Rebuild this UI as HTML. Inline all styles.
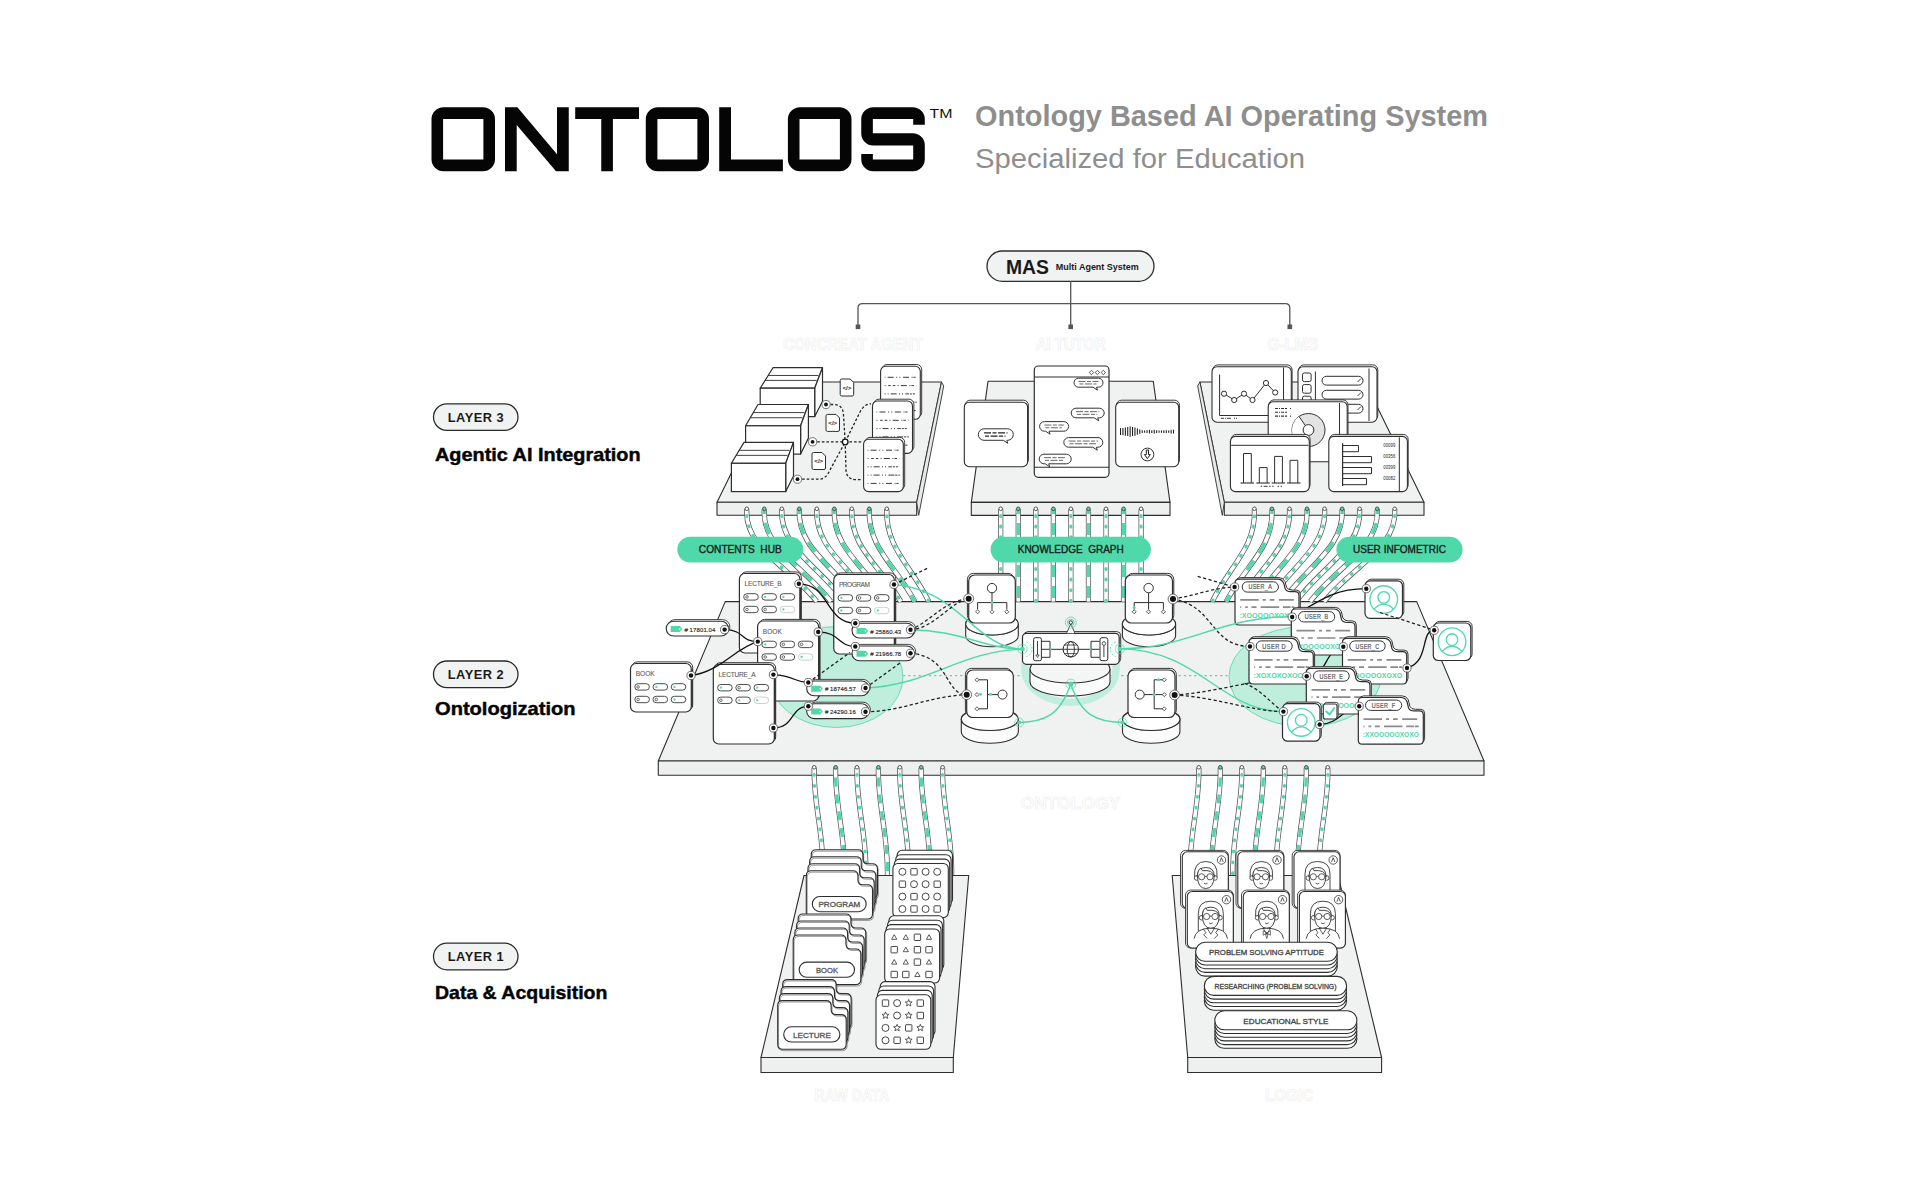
<!DOCTYPE html>
<html><head><meta charset="utf-8"><title>ONTOLOS</title>
<style>html,body{margin:0;padding:0;background:#fff;width:1920px;height:1200px;overflow:hidden}svg{display:block;font-family:"Liberation Sans",sans-serif}</style>
</head><body>
<svg width="1920" height="1200" viewBox="0 0 1920 1200" font-family='"Liberation Sans", sans-serif'>
<rect x="0" y="0" width="1920" height="1200" rx="0" fill="#ffffff" stroke="none" stroke-width="0" />
<path d="M443.5,107.3 h39.5 a12,12 0 0 1 12,12 v39.85 a12,12 0 0 1 -12,12 h-39.5 a12,12 0 0 1 -12,-12 v-39.85 a12,12 0 0 1 12,-12 Z M443.1,118.9 H483.4 V159.55 H443.1 Z" fill="#050505" stroke="none" stroke-width="0" fill-rule="evenodd"/>
<path d="M505,107.3 L517.4,107.3 L557,154.2 L557,107.3 L568.75,107.3 L568.75,171.15 L556,171.15 L516.7,125 L516.7,171.15 L505,171.15 Z" fill="#050505" stroke="none" stroke-width="0" />
<path d="M575.2,107.3 H639 V119 H612.9 V171.15 H601.25 V119 H575.2 Z" fill="#050505" stroke="none" stroke-width="0" />
<path d="M657.8,107.3 h39.2 a12,12 0 0 1 12,12 v39.85 a12,12 0 0 1 -12,12 h-39.2 a12,12 0 0 1 -12,-12 v-39.85 a12,12 0 0 1 12,-12 Z M657.4,118.9 H697.4 V159.55 H657.4 Z" fill="#050505" stroke="none" stroke-width="0" fill-rule="evenodd"/>
<path d="M719.2,107.3 H731 V159.4 H782.9 V171.15 H719.2 Z" fill="#050505" stroke="none" stroke-width="0" />
<path d="M799.9,107.3 h39.6 a12,12 0 0 1 12,12 v39.85 a12,12 0 0 1 -12,12 h-39.6 a12,12 0 0 1 -12,-12 v-39.85 a12,12 0 0 1 12,-12 Z M799.5,118.9 H839.9 V159.55 H799.5 Z" fill="#050505" stroke="none" stroke-width="0" fill-rule="evenodd"/>
<path d="M873.25,107.3 H912.8 A12,12 0 0 1 924.8,119.3 V124.8 H913.2 V118.9 H872.85 V133.3 H912.8 A12,12 0 0 1 924.8,145.3 V159.15 A12,12 0 0 1 912.8,171.15 H873.25 A12,12 0 0 1 861.25,159.15 V154 H872.85 V159.55 H913.2 V145.5 H873.25 A12,12 0 0 1 861.25,133.5 V119.3 A12,12 0 0 1 873.25,107.3 Z" fill="#050505" stroke="none" stroke-width="0" />
<text x="929.5" y="118.2" font-size="12.5" font-weight="normal" fill="#111" text-anchor="start" textLength="23" lengthAdjust="spacingAndGlyphs">TM</text>
<text x="975" y="126.4" font-size="28.6" font-weight="bold" fill="#8e8e8e" text-anchor="start" textLength="513" lengthAdjust="spacingAndGlyphs">Ontology Based AI Operating System</text>
<text x="975" y="167.5" font-size="28.4" font-weight="normal" fill="#8e8e8e" text-anchor="start" textLength="330" lengthAdjust="spacingAndGlyphs">Specialized for Education</text>
<rect x="433.5" y="403.8" width="84.5" height="26.6" rx="13.3" fill="#f1f2f2" stroke="#2a2a2a" stroke-width="1.3" />
<text x="447.8" y="422" font-size="12.8" font-weight="bold" fill="#1a1a1a" text-anchor="start" textLength="55.7" lengthAdjust="spacing">LAYER 3</text>
<text x="435" y="460.6" font-size="19" font-weight="bold" fill="#050505" text-anchor="start" stroke="#050505" stroke-width="0.45" textLength="205.6" lengthAdjust="spacingAndGlyphs">Agentic AI Integration</text>
<rect x="433.5" y="661" width="84.5" height="26.6" rx="13.3" fill="#f1f2f2" stroke="#2a2a2a" stroke-width="1.3" />
<text x="447.8" y="679.2" font-size="12.8" font-weight="bold" fill="#1a1a1a" text-anchor="start" textLength="55.7" lengthAdjust="spacing">LAYER 2</text>
<text x="435" y="715" font-size="19" font-weight="bold" fill="#050505" text-anchor="start" stroke="#050505" stroke-width="0.45" textLength="140.6" lengthAdjust="spacingAndGlyphs">Ontologization</text>
<rect x="433.5" y="943.2" width="84.5" height="26.6" rx="13.3" fill="#f1f2f2" stroke="#2a2a2a" stroke-width="1.3" />
<text x="447.8" y="961.4" font-size="12.8" font-weight="bold" fill="#1a1a1a" text-anchor="start" textLength="55.7" lengthAdjust="spacing">LAYER 1</text>
<text x="435" y="998.8" font-size="19" font-weight="bold" fill="#050505" text-anchor="start" stroke="#050505" stroke-width="0.45" textLength="172.4" lengthAdjust="spacingAndGlyphs">Data &amp; Acquisition</text>
<rect x="987" y="251" width="167" height="30.3" rx="15.2" fill="#f1f2f2" stroke="#2e2e2e" stroke-width="1.3" />
<text x="1006" y="273.6" font-size="19.5" font-weight="bold" fill="#1a1a1a" text-anchor="start" textLength="43" lengthAdjust="spacingAndGlyphs">MAS</text>
<text x="1055.8" y="270.2" font-size="9.8" font-weight="bold" fill="#1a1a1a" text-anchor="start" textLength="83" lengthAdjust="spacingAndGlyphs">Multi Agent System</text>
<path d="M1070.7,281.3 V327" fill="none" stroke="#555" stroke-width="1.3" />
<path d="M858,327 V308 Q858,303.6 862.4,303.6 H1285.4 Q1289.8,303.6 1289.8,308 V327" fill="none" stroke="#555" stroke-width="1.3" />
<rect x="855.7" y="324.5" width="4.6" height="4.6" rx="0" fill="#555" stroke="none" stroke-width="0" />
<rect x="1068.4" y="324.5" width="4.6" height="4.6" rx="0" fill="#555" stroke="none" stroke-width="0" />
<rect x="1287.5" y="324.5" width="4.6" height="4.6" rx="0" fill="#555" stroke="none" stroke-width="0" />
<text x="853" y="349.8" font-size="17" font-weight="bold" fill="#ffffff" text-anchor="middle" stroke="#ececec" stroke-width="0.6" textLength="139.6" lengthAdjust="spacingAndGlyphs">CONCREAT AGENT</text>
<text x="1070.7" y="349.8" font-size="17" font-weight="bold" fill="#ffffff" text-anchor="middle" stroke="#ececec" stroke-width="0.6" textLength="70" lengthAdjust="spacingAndGlyphs">AI TUTOR</text>
<text x="1292.7" y="349.8" font-size="17" font-weight="bold" fill="#ffffff" text-anchor="middle" stroke="#ececec" stroke-width="0.6" textLength="51" lengthAdjust="spacingAndGlyphs">G-LMS</text>
<polygon points="776,382 941.5,382 916.7,502.3 717,502.3" fill="#f0f1f1" stroke="#2e2e2e" stroke-width="1.1" stroke-linejoin="round" />
<polygon points="717,502.3 916.7,502.3 916.7,515.3 717,515.3" fill="#eeefef" stroke="#2e2e2e" stroke-width="1.1" stroke-linejoin="round" />
<polygon points="941.5,382 943.7,386 918.7,515.3 916.7,502.3" fill="#e8e9e9" stroke="#2e2e2e" stroke-width="0.9" stroke-linejoin="round" />
<polygon points="988,381.3 1153.3,381.3 1170,502.4 971.3,502.4" fill="#f0f1f1" stroke="#2e2e2e" stroke-width="1.1" stroke-linejoin="round" />
<polygon points="971.3,502.4 1170,502.4 1170,515.4 971.3,515.4" fill="#eeefef" stroke="#2e2e2e" stroke-width="1.1" stroke-linejoin="round" />
<polygon points="1199.9,382 1365,382 1424,502.3 1224.3,502.3" fill="#f0f1f1" stroke="#2e2e2e" stroke-width="1.1" stroke-linejoin="round" />
<polygon points="1224.3,502.3 1424,502.3 1424,515.3 1224.3,515.3" fill="#eeefef" stroke="#2e2e2e" stroke-width="1.1" stroke-linejoin="round" />
<polygon points="1199.9,382 1197.7,386 1222.3,515.3 1224.3,502.3" fill="#e8e9e9" stroke="#2e2e2e" stroke-width="0.9" stroke-linejoin="round" />
<polygon points="760.2,388.2 773,367.7 822.5,367.7 814.7,388.2" fill="#fff" stroke="#2e2e2e" stroke-width="1.2" stroke-linejoin="round" />
<polygon points="814.7,388.2 822.5,367.7 822.5,401.23 814.7,416.6" fill="#fff" stroke="#2e2e2e" stroke-width="1.2" stroke-linejoin="round" />
<rect x="760.2" y="388.2" width="54.5" height="28.4" rx="0" fill="#fff" stroke="#2e2e2e" stroke-width="1.2" />
<line x1="768.14" y1="375.49" x2="818.54" y2="375.49" stroke="#2e2e2e" stroke-width="0.9" />
<line x1="765.06" y1="380.41" x2="816.66" y2="380.41" stroke="#2e2e2e" stroke-width="0.9" />
<polygon points="745.6,425.8 758,404.5 808.4,404.5 800.6,425.8" fill="#fff" stroke="#2e2e2e" stroke-width="1.2" stroke-linejoin="round" />
<polygon points="800.6,425.8 808.4,404.5 808.4,438.12 800.6,454.1" fill="#fff" stroke="#2e2e2e" stroke-width="1.2" stroke-linejoin="round" />
<rect x="745.6" y="425.8" width="55" height="28.3" rx="0" fill="#fff" stroke="#2e2e2e" stroke-width="1.2" />
<line x1="753.29" y1="412.59" x2="804.44" y2="412.59" stroke="#2e2e2e" stroke-width="0.9" />
<line x1="750.31" y1="417.71" x2="802.56" y2="417.71" stroke="#2e2e2e" stroke-width="0.9" />
<polygon points="731.4,463.3 744,442.4 793.5,442.4 785.7,463.3" fill="#fff" stroke="#2e2e2e" stroke-width="1.2" stroke-linejoin="round" />
<polygon points="785.7,463.3 793.5,442.4 793.5,475.93 785.7,491.6" fill="#fff" stroke="#2e2e2e" stroke-width="1.2" stroke-linejoin="round" />
<rect x="731.4" y="463.3" width="54.3" height="28.3" rx="0" fill="#fff" stroke="#2e2e2e" stroke-width="1.2" />
<line x1="739.21" y1="450.34" x2="789.54" y2="450.34" stroke="#2e2e2e" stroke-width="0.9" />
<line x1="736.19" y1="455.36" x2="787.66" y2="455.36" stroke="#2e2e2e" stroke-width="0.9" />
<path d="M841.7,379 H850.2 L853.7,382.5 V394.5 Q853.7,396 852.2,396 H841.7 Q840.2,396 840.2,394.5 V380.5 Q840.2,379 841.7,379 Z" fill="#fff" stroke="#2e2e2e" stroke-width="1" />
<text x="846.95" y="389.8" font-size="6.2" font-weight="bold" fill="#222" text-anchor="middle" >&lt;/&gt;</text>
<path d="M827.5,414.4 H836 L839.5,417.9 V429.9 Q839.5,431.4 838,431.4 H827.5 Q826,431.4 826,429.9 V415.9 Q826,414.4 827.5,414.4 Z" fill="#fff" stroke="#2e2e2e" stroke-width="1" />
<text x="832.75" y="425.2" font-size="6.2" font-weight="bold" fill="#222" text-anchor="middle" >&lt;/&gt;</text>
<path d="M813.5,452.5 H822 L825.5,456 V468 Q825.5,469.5 824,469.5 H813.5 Q812,469.5 812,468 V454 Q812,452.5 813.5,452.5 Z" fill="#fff" stroke="#2e2e2e" stroke-width="1" />
<text x="818.75" y="463.3" font-size="6.2" font-weight="bold" fill="#222" text-anchor="middle" >&lt;/&gt;</text>
<path d="M826,404.5 H834 Q843,404.5 843.5,415 L845.2,442 L846,470 Q846.5,479.6 856,479.6 H862" fill="none" stroke="#222" stroke-width="1.3" stroke-dasharray="2.6 2" stroke-linecap="butt"/>
<path d="M812.6,441.8 H863" fill="none" stroke="#222" stroke-width="1.3" stroke-dasharray="2.6 2" stroke-linecap="butt"/>
<path d="M797.5,479.2 H819 Q826,479.2 830,470 L845.2,442 L860,412 Q864,404 871,403.8" fill="none" stroke="#222" stroke-width="1.3" stroke-dasharray="2.6 2" stroke-linecap="butt"/>
<rect x="882" y="364.5" width="39.7" height="53" rx="5" fill="#fff" stroke="#2e2e2e" stroke-width="0.935" />
<rect x="880.6" y="366.3" width="39.7" height="53" rx="5" fill="#fff" stroke="#2e2e2e" stroke-width="1.1" />
<line x1="884.6" y1="377.3" x2="916.8" y2="377.3" stroke="#3a3a3a" stroke-width="1.0" stroke-dasharray="0.8 2.2 6 2.6 1 2.2 1 2.6 6 2.6 1"/>
<line x1="884.6" y1="385.6" x2="916.8" y2="385.6" stroke="#3a3a3a" stroke-width="1.0" stroke-dasharray="1 2.6 2.6 2 2.6 2.2 1 2.2 6 2.6 1"/>
<line x1="884.6" y1="393.9" x2="916.8" y2="393.9" stroke="#3a3a3a" stroke-width="1.0" stroke-dasharray="1 2 1 2 6 2.4 1 2 1 2.4 3.5"/>
<line x1="884.6" y1="402.2" x2="916.8" y2="402.2" stroke="#3a3a3a" stroke-width="1.0" stroke-dasharray="0.8 2.2 1 2 6 2.4 1 2 1 2.4 6"/>
<line x1="884.6" y1="410.5" x2="916.8" y2="410.5" stroke="#3a3a3a" stroke-width="1.0" stroke-dasharray="0.8 2.2 6 2.6 1 2.2 1 2.6 6 2.6 1"/>
<rect x="873.9" y="399.2" width="40" height="52.4" rx="5" fill="#fff" stroke="#2e2e2e" stroke-width="0.935" />
<rect x="872.5" y="401" width="40" height="52.4" rx="5" fill="#fff" stroke="#2e2e2e" stroke-width="1.1" />
<line x1="876.5" y1="412" x2="909" y2="412" stroke="#3a3a3a" stroke-width="1.0" stroke-dasharray="0.8 2.2 6 2.6 1 2.2 1 2.6 6 2.6 1"/>
<line x1="876.5" y1="420.3" x2="909" y2="420.3" stroke="#3a3a3a" stroke-width="1.0" stroke-dasharray="1 2.6 2.6 2 2.6 2.2 1 2.2 6 2.6 1"/>
<line x1="876.5" y1="428.6" x2="909" y2="428.6" stroke="#3a3a3a" stroke-width="1.0" stroke-dasharray="1 2 1 2 6 2.4 1 2 1 2.4 3.5"/>
<line x1="876.5" y1="436.9" x2="909" y2="436.9" stroke="#3a3a3a" stroke-width="1.0" stroke-dasharray="0.8 2.2 1 2 6 2.4 1 2 1 2.4 6"/>
<line x1="876.5" y1="445.2" x2="909" y2="445.2" stroke="#3a3a3a" stroke-width="1.0" stroke-dasharray="0.8 2.2 6 2.6 1 2.2 1 2.6 6 2.6 1"/>
<rect x="865" y="437.4" width="39.7" height="52.4" rx="5" fill="#fff" stroke="#2e2e2e" stroke-width="0.935" />
<rect x="863.6" y="439.2" width="39.7" height="52.4" rx="5" fill="#fff" stroke="#2e2e2e" stroke-width="1.1" />
<line x1="867.6" y1="450.2" x2="899.8" y2="450.2" stroke="#3a3a3a" stroke-width="1.0" stroke-dasharray="0.8 2.2 6 2.6 1 2.2 1 2.6 6 2.6 1"/>
<line x1="867.6" y1="458.5" x2="899.8" y2="458.5" stroke="#3a3a3a" stroke-width="1.0" stroke-dasharray="1 2.6 2.6 2 2.6 2.2 1 2.2 6 2.6 1"/>
<line x1="867.6" y1="466.8" x2="899.8" y2="466.8" stroke="#3a3a3a" stroke-width="1.0" stroke-dasharray="1 2 1 2 6 2.4 1 2 1 2.4 3.5"/>
<line x1="867.6" y1="475.1" x2="899.8" y2="475.1" stroke="#3a3a3a" stroke-width="1.0" stroke-dasharray="0.8 2.2 1 2 6 2.4 1 2 1 2.4 6"/>
<line x1="867.6" y1="483.4" x2="899.8" y2="483.4" stroke="#3a3a3a" stroke-width="1.0" stroke-dasharray="0.8 2.2 6 2.6 1 2.2 1 2.6 6 2.6 1"/>
<circle cx="826" cy="404.5" r="4.1" fill="#fff" stroke="#555" stroke-width="0.8" />
<circle cx="826" cy="404.5" r="1.9" fill="#111" stroke="none" stroke-width="0" />
<circle cx="812.6" cy="441.8" r="4.1" fill="#fff" stroke="#555" stroke-width="0.8" />
<circle cx="812.6" cy="441.8" r="1.9" fill="#111" stroke="none" stroke-width="0" />
<circle cx="797.5" cy="479.2" r="4.1" fill="#fff" stroke="#555" stroke-width="0.8" />
<circle cx="797.5" cy="479.2" r="1.9" fill="#111" stroke="none" stroke-width="0" />
<circle cx="845.2" cy="442" r="2.8" fill="#fff" stroke="#111" stroke-width="1.3" />
<rect x="965.1" y="400.2" width="63.3" height="64.5" rx="5" fill="#fff" stroke="#2e2e2e" stroke-width="0.935" />
<rect x="964.3" y="402.2" width="63.3" height="64.5" rx="5" fill="#fff" stroke="#2e2e2e" stroke-width="1.1" />
<path d="M984.05,428.8 H1007.55 A5.75,5.75 0 0 1 1013.3,434.55 A5.75,5.75 0 0 1 1007.55,440.3 H1006.8 L1007.8,443.3 L1003.3,440.3 H984.05 A5.75,5.75 0 0 1 978.3,434.55 A5.75,5.75 0 0 1 984.05,428.8 Z" fill="#fff" stroke="#333" stroke-width="1.0" />
<line x1="984.05" y1="432.94" x2="1007.55" y2="432.94" stroke="#222" stroke-width="1.3" stroke-dasharray="7 1.5 4 1.5"/>
<line x1="985.05" y1="436.16" x2="1005.55" y2="436.16" stroke="#222" stroke-width="1.3" stroke-dasharray="4 1.5 7 1.5"/>
<rect x="1034.3" y="366" width="74.7" height="111.3" rx="4" fill="#fff" stroke="#2e2e2e" stroke-width="1.2" />
<line x1="1034.3" y1="377" x2="1109" y2="377" stroke="#2e2e2e" stroke-width="1.1" />
<line x1="1034.3" y1="467.3" x2="1109" y2="467.3" stroke="#2e2e2e" stroke-width="1.1" />
<path d="M1091.5,370.3 l2.2,2.2 l-2.2,2.2 l-2.2,-2.2 Z" fill="#fff" stroke="#2e2e2e" stroke-width="0.8" />
<path d="M1097.4,370.3 l2.2,2.2 l-2.2,2.2 l-2.2,-2.2 Z" fill="#fff" stroke="#2e2e2e" stroke-width="0.8" />
<path d="M1103.3,370.3 l2.2,2.2 l-2.2,2.2 l-2.2,-2.2 Z" fill="#fff" stroke="#2e2e2e" stroke-width="0.8" />
<path d="M1078.5,378.2 H1098.5 A4.5,4.5 0 0 1 1103,382.7 A4.5,4.5 0 0 1 1098.5,387.2 H1096.5 L1097.5,390.2 L1093,387.2 H1078.5 A4.5,4.5 0 0 1 1074,382.7 A4.5,4.5 0 0 1 1078.5,378.2 Z" fill="#fff" stroke="#333" stroke-width="1.0" />
<line x1="1078.5" y1="381.44" x2="1098.5" y2="381.44" stroke="#555" stroke-width="0.9" stroke-dasharray="7 1.5 4 1.5"/>
<line x1="1079.5" y1="383.96" x2="1096.5" y2="383.96" stroke="#555" stroke-width="0.9" stroke-dasharray="4 1.5 7 1.5"/>
<path d="M1076,408.2 H1099.4 A4.8,4.8 0 0 1 1104.2,413 A4.8,4.8 0 0 1 1099.4,417.8 H1097.7 L1098.7,420.8 L1094.2,417.8 H1076 A4.8,4.8 0 0 1 1071.2,413 A4.8,4.8 0 0 1 1076,408.2 Z" fill="#fff" stroke="#333" stroke-width="1.0" />
<line x1="1076" y1="411.66" x2="1099.4" y2="411.66" stroke="#555" stroke-width="0.9" stroke-dasharray="7 1.5 4 1.5"/>
<line x1="1077" y1="414.34" x2="1097.4" y2="414.34" stroke="#555" stroke-width="0.9" stroke-dasharray="4 1.5 7 1.5"/>
<path d="M1044.4,421.6 H1063.8 A4.8,4.8 0 0 1 1068.6,426.4 A4.8,4.8 0 0 1 1063.8,431.2 H1049.1 L1050.1,434.2 L1045.6,431.2 H1044.4 A4.8,4.8 0 0 1 1039.6,426.4 A4.8,4.8 0 0 1 1044.4,421.6 Z" fill="#fff" stroke="#333" stroke-width="1.0" />
<line x1="1044.4" y1="425.06" x2="1063.8" y2="425.06" stroke="#555" stroke-width="0.9" stroke-dasharray="7 1.5 4 1.5"/>
<line x1="1045.4" y1="427.74" x2="1061.8" y2="427.74" stroke="#555" stroke-width="0.9" stroke-dasharray="4 1.5 7 1.5"/>
<path d="M1068.6,437.6 H1098 A4.8,4.8 0 0 1 1102.8,442.4 A4.8,4.8 0 0 1 1098,447.2 H1096.3 L1097.3,450.2 L1092.8,447.2 H1068.6 A4.8,4.8 0 0 1 1063.8,442.4 A4.8,4.8 0 0 1 1068.6,437.6 Z" fill="#fff" stroke="#333" stroke-width="1.0" />
<line x1="1068.6" y1="441.06" x2="1098" y2="441.06" stroke="#555" stroke-width="0.9" stroke-dasharray="7 1.5 4 1.5"/>
<line x1="1069.6" y1="443.74" x2="1096" y2="443.74" stroke="#555" stroke-width="0.9" stroke-dasharray="4 1.5 7 1.5"/>
<path d="M1044,454.2 H1066.4 A4.8,4.8 0 0 1 1071.2,459 A4.8,4.8 0 0 1 1066.4,463.8 H1048.7 L1049.7,466.8 L1045.2,463.8 H1044 A4.8,4.8 0 0 1 1039.2,459 A4.8,4.8 0 0 1 1044,454.2 Z" fill="#fff" stroke="#333" stroke-width="1.0" />
<line x1="1044" y1="457.66" x2="1066.4" y2="457.66" stroke="#555" stroke-width="0.9" stroke-dasharray="7 1.5 4 1.5"/>
<line x1="1045" y1="460.34" x2="1064.4" y2="460.34" stroke="#555" stroke-width="0.9" stroke-dasharray="4 1.5 7 1.5"/>
<rect x="1116.5" y="400.2" width="63" height="64.5" rx="5" fill="#fff" stroke="#2e2e2e" stroke-width="0.935" />
<rect x="1115.7" y="402.2" width="63" height="64.5" rx="5" fill="#fff" stroke="#2e2e2e" stroke-width="1.1" />
<line x1="1120.5" y1="428.1" x2="1120.5" y2="435.1" stroke="#1a1a1a" stroke-width="1.05" />
<line x1="1122.91" y1="428" x2="1122.91" y2="435.2" stroke="#1a1a1a" stroke-width="1.05" />
<line x1="1125.32" y1="427.5" x2="1125.32" y2="435.7" stroke="#1a1a1a" stroke-width="1.05" />
<line x1="1127.73" y1="427.1" x2="1127.73" y2="436.1" stroke="#1a1a1a" stroke-width="1.05" />
<line x1="1130.14" y1="426.5" x2="1130.14" y2="436.7" stroke="#1a1a1a" stroke-width="1.05" />
<line x1="1132.55" y1="427.1" x2="1132.55" y2="436.1" stroke="#1a1a1a" stroke-width="1.05" />
<line x1="1134.96" y1="427.5" x2="1134.96" y2="435.7" stroke="#1a1a1a" stroke-width="1.05" />
<line x1="1137.37" y1="428.4" x2="1137.37" y2="434.8" stroke="#1a1a1a" stroke-width="1.05" />
<line x1="1139.78" y1="429.4" x2="1139.78" y2="433.8" stroke="#1a1a1a" stroke-width="1.05" />
<line x1="1142.19" y1="430.3" x2="1142.19" y2="432.9" stroke="#1a1a1a" stroke-width="1.05" />
<line x1="1144.6" y1="430.4" x2="1144.6" y2="432.8" stroke="#1a1a1a" stroke-width="1.05" />
<line x1="1147.01" y1="430.3" x2="1147.01" y2="432.9" stroke="#1a1a1a" stroke-width="1.05" />
<line x1="1149.42" y1="429.8" x2="1149.42" y2="433.4" stroke="#1a1a1a" stroke-width="1.05" />
<line x1="1151.83" y1="430.3" x2="1151.83" y2="432.9" stroke="#1a1a1a" stroke-width="1.05" />
<line x1="1154.24" y1="429.8" x2="1154.24" y2="433.4" stroke="#1a1a1a" stroke-width="1.05" />
<line x1="1156.65" y1="430.3" x2="1156.65" y2="432.9" stroke="#1a1a1a" stroke-width="1.05" />
<line x1="1159.06" y1="430.4" x2="1159.06" y2="432.8" stroke="#1a1a1a" stroke-width="1.05" />
<line x1="1161.47" y1="430.4" x2="1161.47" y2="432.8" stroke="#1a1a1a" stroke-width="1.05" />
<line x1="1163.88" y1="430.3" x2="1163.88" y2="432.9" stroke="#1a1a1a" stroke-width="1.05" />
<line x1="1166.29" y1="430.3" x2="1166.29" y2="432.9" stroke="#1a1a1a" stroke-width="1.05" />
<line x1="1168.7" y1="430.4" x2="1168.7" y2="432.8" stroke="#1a1a1a" stroke-width="1.05" />
<line x1="1171.11" y1="429.8" x2="1171.11" y2="433.4" stroke="#1a1a1a" stroke-width="1.05" />
<line x1="1173.52" y1="429.7" x2="1173.52" y2="433.5" stroke="#1a1a1a" stroke-width="1.05" />
<circle cx="1147.4" cy="454.5" r="6.4" fill="#fff" stroke="#333" stroke-width="1.0" />
<path d="M1146.3,450 H1148.5 V454.6 H1150.3 L1147.4,458.6 L1144.5,454.6 H1146.3 Z" fill="#fff" stroke="#222" stroke-width="1.0" />
<rect x="1212.8" y="364.9" width="79.3" height="55.5" rx="5" fill="#fff" stroke="#2e2e2e" stroke-width="0.935" />
<rect x="1212" y="366.7" width="79.3" height="55.5" rx="5" fill="#fff" stroke="#2e2e2e" stroke-width="1.1" />
<line x1="1283.5" y1="367.5" x2="1283.5" y2="421.5" stroke="#2e2e2e" stroke-width="1.0" />
<path d="M1219.6,374.6 V415.5 H1282" fill="none" stroke="#2e2e2e" stroke-width="1.0" />
<path d="M1224,393.7 L1234.2,400 L1244,393.7 L1252.5,400 L1266,383 L1275.2,392.5" fill="none" stroke="#2e2e2e" stroke-width="1.0" />
<circle cx="1224" cy="393.7" r="2.6" fill="#fff" stroke="#2e2e2e" stroke-width="1.0" />
<circle cx="1234.2" cy="400" r="2.6" fill="#fff" stroke="#2e2e2e" stroke-width="1.0" />
<circle cx="1244" cy="393.7" r="2.6" fill="#fff" stroke="#2e2e2e" stroke-width="1.0" />
<circle cx="1252.5" cy="400" r="2.6" fill="#fff" stroke="#2e2e2e" stroke-width="1.0" />
<circle cx="1266" cy="383" r="2.6" fill="#fff" stroke="#2e2e2e" stroke-width="1.0" />
<circle cx="1275.2" cy="392.5" r="2.6" fill="#fff" stroke="#2e2e2e" stroke-width="1.0" />
<line x1="1221" y1="418.3" x2="1239" y2="418.3" stroke="#222" stroke-width="0.9" stroke-dasharray="3 1 1 1 4"/>
<rect x="1298.8" y="364.9" width="79" height="55.5" rx="5" fill="#fff" stroke="#2e2e2e" stroke-width="0.935" />
<rect x="1298" y="366.7" width="79" height="55.5" rx="5" fill="#fff" stroke="#2e2e2e" stroke-width="1.1" />
<line x1="1315.4" y1="371.5" x2="1315.4" y2="421" stroke="#2e2e2e" stroke-width="1.0" />
<line x1="1369" y1="368.5" x2="1369" y2="421" stroke="#2e2e2e" stroke-width="1.0" />
<rect x="1302.5" y="373" width="8.6" height="8.6" rx="1.8" fill="#fff" stroke="#2e2e2e" stroke-width="1.0" />
<rect x="1322" y="376.3" width="41" height="8.8" rx="4.4" fill="#fff" stroke="#2e2e2e" stroke-width="1.0" />
<line x1="1357.5" y1="382" x2="1361" y2="378.5" stroke="#2e2e2e" stroke-width="0.9" />
<rect x="1302.5" y="384.6" width="8.6" height="8.6" rx="1.8" fill="#fff" stroke="#2e2e2e" stroke-width="1.0" />
<rect x="1322" y="390.3" width="41" height="8.8" rx="4.4" fill="#fff" stroke="#2e2e2e" stroke-width="1.0" />
<line x1="1357.5" y1="396" x2="1361" y2="392.5" stroke="#2e2e2e" stroke-width="0.9" />
<rect x="1302.5" y="396.2" width="8.6" height="8.6" rx="1.8" fill="#fff" stroke="#2e2e2e" stroke-width="1.0" />
<rect x="1322" y="404.3" width="41" height="8.8" rx="4.4" fill="#fff" stroke="#2e2e2e" stroke-width="1.0" />
<line x1="1357.5" y1="410" x2="1361" y2="406.5" stroke="#2e2e2e" stroke-width="0.9" />
<rect x="1269" y="399.9" width="79" height="60" rx="5" fill="#fff" stroke="#2e2e2e" stroke-width="0.935" />
<rect x="1268.2" y="401.7" width="79" height="60" rx="5" fill="#fff" stroke="#2e2e2e" stroke-width="1.1" />
<line x1="1339.5" y1="403" x2="1339.5" y2="461" stroke="#2e2e2e" stroke-width="1.0" />
<line x1="1275" y1="408.5" x2="1291" y2="408.5" stroke="#333" stroke-width="1.1" stroke-dasharray="3 1 1 1 3 1 2"/>
<line x1="1275" y1="412.3" x2="1290" y2="412.3" stroke="#333" stroke-width="1.1" stroke-dasharray="3 1 1 1 3 1 2"/>
<line x1="1275" y1="416.1" x2="1292" y2="416.1" stroke="#333" stroke-width="1.1" stroke-dasharray="3 1 1 1 3 1 2"/>
<circle cx="1308.5" cy="430" r="16.5" fill="#e3e3e3" stroke="#333" stroke-width="1.0" />
<path d="M1308.5,430 L1299,416.5 A16.5,16.5 0 0 0 1299,443.5 Z" fill="#fff" stroke="none" stroke-width="0" />
<path d="M1308.5,430 L1299,416.5" fill="none" stroke="#2e2e2e" stroke-width="1.0" />
<circle cx="1308.5" cy="430" r="5.4" fill="#fff" stroke="#2e2e2e" stroke-width="1.0" />
<rect x="1231.2" y="434.4" width="78.9" height="55.2" rx="5" fill="#fff" stroke="#2e2e2e" stroke-width="0.935" />
<rect x="1230.4" y="436.4" width="78.9" height="55.2" rx="5" fill="#fff" stroke="#2e2e2e" stroke-width="1.1" />
<line x1="1231.2" y1="445.3" x2="1308.5" y2="445.3" stroke="#2e2e2e" stroke-width="1.0" />
<path d="M1243.5,483 V453.5 H1251.3 V483" fill="none" stroke="#2e2e2e" stroke-width="1.0" />
<line x1="1240.5" y1="483" x2="1254" y2="483" stroke="#2e2e2e" stroke-width="1.1" />
<path d="M1259.3,483 V467.6 H1267.1 V483" fill="none" stroke="#2e2e2e" stroke-width="1.0" />
<line x1="1256.3" y1="483" x2="1269.8" y2="483" stroke="#2e2e2e" stroke-width="1.1" />
<path d="M1274.6,483 V456.4 H1282.4 V483" fill="none" stroke="#2e2e2e" stroke-width="1.0" />
<line x1="1271.6" y1="483" x2="1285.1" y2="483" stroke="#2e2e2e" stroke-width="1.1" />
<path d="M1290,483 V460.3 H1297.8 V483" fill="none" stroke="#2e2e2e" stroke-width="1.0" />
<line x1="1287" y1="483" x2="1300.5" y2="483" stroke="#2e2e2e" stroke-width="1.1" />
<line x1="1260.6" y1="486.3" x2="1282" y2="486.3" stroke="#222" stroke-width="0.9" stroke-dasharray="1.5 1.5 4 1.5 1.5"/>
<rect x="1329.6" y="434.4" width="78.6" height="55.2" rx="5" fill="#fff" stroke="#2e2e2e" stroke-width="0.935" />
<rect x="1328.8" y="436.4" width="78.6" height="55.2" rx="5" fill="#fff" stroke="#2e2e2e" stroke-width="1.1" />
<line x1="1399.3" y1="437.3" x2="1399.3" y2="491" stroke="#2e2e2e" stroke-width="1.0" />
<line x1="1342.6" y1="443.3" x2="1342.6" y2="486" stroke="#2e2e2e" stroke-width="1.2" />
<path d="M1343,445.5 H1358.5 V451.7 H1343" fill="none" stroke="#2e2e2e" stroke-width="1.0" />
<path d="M1343,456.5 H1371.5 V462.7 H1343" fill="none" stroke="#2e2e2e" stroke-width="1.0" />
<path d="M1343,467.5 H1371.5 V473.7 H1343" fill="none" stroke="#2e2e2e" stroke-width="1.0" />
<path d="M1343,478.5 H1366.5 V484.7 H1343" fill="none" stroke="#2e2e2e" stroke-width="1.0" />
<text x="1383.3" y="447.2" font-size="5.6" font-weight="normal" fill="#222" text-anchor="start" textLength="12" lengthAdjust="spacingAndGlyphs">00099</text>
<text x="1383.3" y="458.2" font-size="5.6" font-weight="normal" fill="#222" text-anchor="start" textLength="12" lengthAdjust="spacingAndGlyphs">00356</text>
<text x="1383.3" y="469.2" font-size="5.6" font-weight="normal" fill="#222" text-anchor="start" textLength="12" lengthAdjust="spacingAndGlyphs">00399</text>
<text x="1383.3" y="480.2" font-size="5.6" font-weight="normal" fill="#222" text-anchor="start" textLength="12" lengthAdjust="spacingAndGlyphs">00082</text>
<polygon points="725.2,601.6 1416.7,601.6 1484,761 658.3,761" fill="#f0f1f1" stroke="#2e2e2e" stroke-width="1.1" stroke-linejoin="round" />
<polygon points="658.3,761 1484,761 1484,775.2 658.3,775.2" fill="#eeefef" stroke="#2e2e2e" stroke-width="1.1" stroke-linejoin="round" />
<path d="M746.8,509.2 C744,548.01 788.8,566.49 816.8,601.6" fill="none" stroke="#555555" stroke-width="5.2" stroke-linecap="butt"/>
<path d="M746.8,509.2 C744,548.01 788.8,566.49 816.8,601.6" fill="none" stroke="#ffffff" stroke-width="3.7" stroke-linecap="butt"/>
<path d="M746.8,509.2 C744,548.01 788.8,566.49 816.8,601.6" fill="none" stroke="#4fd8a9" stroke-width="3.2" stroke-dasharray="0.8 9.8" stroke-dashoffset="4.2" stroke-linecap="round"/>
<path d="M764.3,509.2 C761.64,548.01 804.2,566.49 830.8,601.6" fill="none" stroke="#555555" stroke-width="5.2" stroke-linecap="butt"/>
<path d="M764.3,509.2 C761.64,548.01 804.2,566.49 830.8,601.6" fill="none" stroke="#ffffff" stroke-width="3.7" stroke-linecap="butt"/>
<path d="M764.3,509.2 C761.64,548.01 804.2,566.49 830.8,601.6" fill="none" stroke="#4fd8a9" stroke-width="3.4" stroke-dasharray="12 9" stroke-dashoffset="7.3"/>
<path d="M781.8,509.2 C779.28,548.01 819.6,566.49 844.8,601.6" fill="none" stroke="#555555" stroke-width="5.2" stroke-linecap="butt"/>
<path d="M781.8,509.2 C779.28,548.01 819.6,566.49 844.8,601.6" fill="none" stroke="#ffffff" stroke-width="3.7" stroke-linecap="butt"/>
<path d="M781.8,509.2 C779.28,548.01 819.6,566.49 844.8,601.6" fill="none" stroke="#4fd8a9" stroke-width="3.2" stroke-dasharray="0.8 9.8" stroke-dashoffset="4.2" stroke-linecap="round"/>
<path d="M799.3,509.2 C796.92,548.01 835,566.49 858.8,601.6" fill="none" stroke="#555555" stroke-width="5.2" stroke-linecap="butt"/>
<path d="M799.3,509.2 C796.92,548.01 835,566.49 858.8,601.6" fill="none" stroke="#ffffff" stroke-width="3.7" stroke-linecap="butt"/>
<path d="M799.3,509.2 C796.92,548.01 835,566.49 858.8,601.6" fill="none" stroke="#4fd8a9" stroke-width="3.4" stroke-dasharray="12 9" stroke-dashoffset="7.3"/>
<path d="M816.8,509.2 C814.56,548.01 850.4,566.49 872.8,601.6" fill="none" stroke="#555555" stroke-width="5.2" stroke-linecap="butt"/>
<path d="M816.8,509.2 C814.56,548.01 850.4,566.49 872.8,601.6" fill="none" stroke="#ffffff" stroke-width="3.7" stroke-linecap="butt"/>
<path d="M816.8,509.2 C814.56,548.01 850.4,566.49 872.8,601.6" fill="none" stroke="#4fd8a9" stroke-width="3.2" stroke-dasharray="0.8 9.8" stroke-dashoffset="4.2" stroke-linecap="round"/>
<path d="M834.3,509.2 C832.2,548.01 865.8,566.49 886.8,601.6" fill="none" stroke="#555555" stroke-width="5.2" stroke-linecap="butt"/>
<path d="M834.3,509.2 C832.2,548.01 865.8,566.49 886.8,601.6" fill="none" stroke="#ffffff" stroke-width="3.7" stroke-linecap="butt"/>
<path d="M834.3,509.2 C832.2,548.01 865.8,566.49 886.8,601.6" fill="none" stroke="#4fd8a9" stroke-width="3.4" stroke-dasharray="12 9" stroke-dashoffset="7.3"/>
<path d="M851.8,509.2 C849.84,548.01 881.2,566.49 900.8,601.6" fill="none" stroke="#555555" stroke-width="5.2" stroke-linecap="butt"/>
<path d="M851.8,509.2 C849.84,548.01 881.2,566.49 900.8,601.6" fill="none" stroke="#ffffff" stroke-width="3.7" stroke-linecap="butt"/>
<path d="M851.8,509.2 C849.84,548.01 881.2,566.49 900.8,601.6" fill="none" stroke="#4fd8a9" stroke-width="3.2" stroke-dasharray="0.8 9.8" stroke-dashoffset="4.2" stroke-linecap="round"/>
<path d="M869.3,509.2 C867.48,548.01 896.6,566.49 914.8,601.6" fill="none" stroke="#555555" stroke-width="5.2" stroke-linecap="butt"/>
<path d="M869.3,509.2 C867.48,548.01 896.6,566.49 914.8,601.6" fill="none" stroke="#ffffff" stroke-width="3.7" stroke-linecap="butt"/>
<path d="M869.3,509.2 C867.48,548.01 896.6,566.49 914.8,601.6" fill="none" stroke="#4fd8a9" stroke-width="3.4" stroke-dasharray="12 9" stroke-dashoffset="7.3"/>
<path d="M886.8,509.2 C885.12,548.01 912,566.49 928.8,601.6" fill="none" stroke="#555555" stroke-width="5.2" stroke-linecap="butt"/>
<path d="M886.8,509.2 C885.12,548.01 912,566.49 928.8,601.6" fill="none" stroke="#ffffff" stroke-width="3.7" stroke-linecap="butt"/>
<path d="M886.8,509.2 C885.12,548.01 912,566.49 928.8,601.6" fill="none" stroke="#4fd8a9" stroke-width="3.2" stroke-dasharray="0.8 9.8" stroke-dashoffset="4.2" stroke-linecap="round"/>
<path d="M1254.4,509.2 C1256.09,548.01 1229.08,566.49 1212.2,601.6" fill="none" stroke="#555555" stroke-width="5.2" stroke-linecap="butt"/>
<path d="M1254.4,509.2 C1256.09,548.01 1229.08,566.49 1212.2,601.6" fill="none" stroke="#ffffff" stroke-width="3.7" stroke-linecap="butt"/>
<path d="M1254.4,509.2 C1256.09,548.01 1229.08,566.49 1212.2,601.6" fill="none" stroke="#4fd8a9" stroke-width="3.2" stroke-dasharray="0.8 9.8" stroke-dashoffset="4.2" stroke-linecap="round"/>
<path d="M1271.94,509.2 C1273.77,548.01 1244.5,566.49 1226.2,601.6" fill="none" stroke="#555555" stroke-width="5.2" stroke-linecap="butt"/>
<path d="M1271.94,509.2 C1273.77,548.01 1244.5,566.49 1226.2,601.6" fill="none" stroke="#ffffff" stroke-width="3.7" stroke-linecap="butt"/>
<path d="M1271.94,509.2 C1273.77,548.01 1244.5,566.49 1226.2,601.6" fill="none" stroke="#4fd8a9" stroke-width="3.4" stroke-dasharray="12 9" stroke-dashoffset="7.3"/>
<path d="M1289.48,509.2 C1291.45,548.01 1259.91,566.49 1240.2,601.6" fill="none" stroke="#555555" stroke-width="5.2" stroke-linecap="butt"/>
<path d="M1289.48,509.2 C1291.45,548.01 1259.91,566.49 1240.2,601.6" fill="none" stroke="#ffffff" stroke-width="3.7" stroke-linecap="butt"/>
<path d="M1289.48,509.2 C1291.45,548.01 1259.91,566.49 1240.2,601.6" fill="none" stroke="#4fd8a9" stroke-width="3.2" stroke-dasharray="0.8 9.8" stroke-dashoffset="4.2" stroke-linecap="round"/>
<path d="M1307.02,509.2 C1309.13,548.01 1275.33,566.49 1254.2,601.6" fill="none" stroke="#555555" stroke-width="5.2" stroke-linecap="butt"/>
<path d="M1307.02,509.2 C1309.13,548.01 1275.33,566.49 1254.2,601.6" fill="none" stroke="#ffffff" stroke-width="3.7" stroke-linecap="butt"/>
<path d="M1307.02,509.2 C1309.13,548.01 1275.33,566.49 1254.2,601.6" fill="none" stroke="#4fd8a9" stroke-width="3.4" stroke-dasharray="12 9" stroke-dashoffset="7.3"/>
<path d="M1324.56,509.2 C1326.81,548.01 1290.74,566.49 1268.2,601.6" fill="none" stroke="#555555" stroke-width="5.2" stroke-linecap="butt"/>
<path d="M1324.56,509.2 C1326.81,548.01 1290.74,566.49 1268.2,601.6" fill="none" stroke="#ffffff" stroke-width="3.7" stroke-linecap="butt"/>
<path d="M1324.56,509.2 C1326.81,548.01 1290.74,566.49 1268.2,601.6" fill="none" stroke="#4fd8a9" stroke-width="3.2" stroke-dasharray="0.8 9.8" stroke-dashoffset="4.2" stroke-linecap="round"/>
<path d="M1342.1,509.2 C1344.5,548.01 1306.16,566.49 1282.2,601.6" fill="none" stroke="#555555" stroke-width="5.2" stroke-linecap="butt"/>
<path d="M1342.1,509.2 C1344.5,548.01 1306.16,566.49 1282.2,601.6" fill="none" stroke="#ffffff" stroke-width="3.7" stroke-linecap="butt"/>
<path d="M1342.1,509.2 C1344.5,548.01 1306.16,566.49 1282.2,601.6" fill="none" stroke="#4fd8a9" stroke-width="3.4" stroke-dasharray="12 9" stroke-dashoffset="7.3"/>
<path d="M1359.64,509.2 C1362.18,548.01 1321.58,566.49 1296.2,601.6" fill="none" stroke="#555555" stroke-width="5.2" stroke-linecap="butt"/>
<path d="M1359.64,509.2 C1362.18,548.01 1321.58,566.49 1296.2,601.6" fill="none" stroke="#ffffff" stroke-width="3.7" stroke-linecap="butt"/>
<path d="M1359.64,509.2 C1362.18,548.01 1321.58,566.49 1296.2,601.6" fill="none" stroke="#4fd8a9" stroke-width="3.2" stroke-dasharray="0.8 9.8" stroke-dashoffset="4.2" stroke-linecap="round"/>
<path d="M1377.18,509.2 C1379.86,548.01 1336.99,566.49 1310.2,601.6" fill="none" stroke="#555555" stroke-width="5.2" stroke-linecap="butt"/>
<path d="M1377.18,509.2 C1379.86,548.01 1336.99,566.49 1310.2,601.6" fill="none" stroke="#ffffff" stroke-width="3.7" stroke-linecap="butt"/>
<path d="M1377.18,509.2 C1379.86,548.01 1336.99,566.49 1310.2,601.6" fill="none" stroke="#4fd8a9" stroke-width="3.4" stroke-dasharray="12 9" stroke-dashoffset="7.3"/>
<path d="M1394.72,509.2 C1397.54,548.01 1352.41,566.49 1324.2,601.6" fill="none" stroke="#555555" stroke-width="5.2" stroke-linecap="butt"/>
<path d="M1394.72,509.2 C1397.54,548.01 1352.41,566.49 1324.2,601.6" fill="none" stroke="#ffffff" stroke-width="3.7" stroke-linecap="butt"/>
<path d="M1394.72,509.2 C1397.54,548.01 1352.41,566.49 1324.2,601.6" fill="none" stroke="#4fd8a9" stroke-width="3.2" stroke-dasharray="0.8 9.8" stroke-dashoffset="4.2" stroke-linecap="round"/>
<path d="M1000.7,509.2 V601.6" fill="none" stroke="#555555" stroke-width="5.2" stroke-linecap="butt"/>
<path d="M1000.7,509.2 V601.6" fill="none" stroke="#ffffff" stroke-width="3.7" stroke-linecap="butt"/>
<path d="M1000.7,509.2 V601.6" fill="none" stroke="#4fd8a9" stroke-width="3.2" stroke-dasharray="0.8 9.8" stroke-dashoffset="4.2" stroke-linecap="round"/>
<path d="M1018.25,509.2 V601.6" fill="none" stroke="#555555" stroke-width="5.2" stroke-linecap="butt"/>
<path d="M1018.25,509.2 V601.6" fill="none" stroke="#ffffff" stroke-width="3.7" stroke-linecap="butt"/>
<path d="M1018.25,509.2 V601.6" fill="none" stroke="#4fd8a9" stroke-width="3.4" stroke-dasharray="12 9" stroke-dashoffset="7.3"/>
<path d="M1035.8,509.2 V601.6" fill="none" stroke="#555555" stroke-width="5.2" stroke-linecap="butt"/>
<path d="M1035.8,509.2 V601.6" fill="none" stroke="#ffffff" stroke-width="3.7" stroke-linecap="butt"/>
<path d="M1035.8,509.2 V601.6" fill="none" stroke="#4fd8a9" stroke-width="3.2" stroke-dasharray="0.8 9.8" stroke-dashoffset="4.2" stroke-linecap="round"/>
<path d="M1053.35,509.2 V601.6" fill="none" stroke="#555555" stroke-width="5.2" stroke-linecap="butt"/>
<path d="M1053.35,509.2 V601.6" fill="none" stroke="#ffffff" stroke-width="3.7" stroke-linecap="butt"/>
<path d="M1053.35,509.2 V601.6" fill="none" stroke="#4fd8a9" stroke-width="3.4" stroke-dasharray="12 9" stroke-dashoffset="7.3"/>
<path d="M1070.9,509.2 V601.6" fill="none" stroke="#555555" stroke-width="5.2" stroke-linecap="butt"/>
<path d="M1070.9,509.2 V601.6" fill="none" stroke="#ffffff" stroke-width="3.7" stroke-linecap="butt"/>
<path d="M1070.9,509.2 V601.6" fill="none" stroke="#4fd8a9" stroke-width="3.2" stroke-dasharray="0.8 9.8" stroke-dashoffset="4.2" stroke-linecap="round"/>
<path d="M1088.45,509.2 V601.6" fill="none" stroke="#555555" stroke-width="5.2" stroke-linecap="butt"/>
<path d="M1088.45,509.2 V601.6" fill="none" stroke="#ffffff" stroke-width="3.7" stroke-linecap="butt"/>
<path d="M1088.45,509.2 V601.6" fill="none" stroke="#4fd8a9" stroke-width="3.4" stroke-dasharray="12 9" stroke-dashoffset="7.3"/>
<path d="M1106,509.2 V601.6" fill="none" stroke="#555555" stroke-width="5.2" stroke-linecap="butt"/>
<path d="M1106,509.2 V601.6" fill="none" stroke="#ffffff" stroke-width="3.7" stroke-linecap="butt"/>
<path d="M1106,509.2 V601.6" fill="none" stroke="#4fd8a9" stroke-width="3.2" stroke-dasharray="0.8 9.8" stroke-dashoffset="4.2" stroke-linecap="round"/>
<path d="M1123.55,509.2 V601.6" fill="none" stroke="#555555" stroke-width="5.2" stroke-linecap="butt"/>
<path d="M1123.55,509.2 V601.6" fill="none" stroke="#ffffff" stroke-width="3.7" stroke-linecap="butt"/>
<path d="M1123.55,509.2 V601.6" fill="none" stroke="#4fd8a9" stroke-width="3.4" stroke-dasharray="12 9" stroke-dashoffset="7.3"/>
<path d="M1141.1,509.2 V601.6" fill="none" stroke="#555555" stroke-width="5.2" stroke-linecap="butt"/>
<path d="M1141.1,509.2 V601.6" fill="none" stroke="#ffffff" stroke-width="3.7" stroke-linecap="butt"/>
<path d="M1141.1,509.2 V601.6" fill="none" stroke="#4fd8a9" stroke-width="3.2" stroke-dasharray="0.8 9.8" stroke-dashoffset="4.2" stroke-linecap="round"/>
<circle cx="746.8" cy="508.8" r="1.8" fill="#fff" stroke="#444" stroke-width="0.9" />
<circle cx="764.3" cy="508.8" r="1.8" fill="#4fd8a9" stroke="#444" stroke-width="0.9" />
<circle cx="781.8" cy="508.8" r="1.8" fill="#fff" stroke="#444" stroke-width="0.9" />
<circle cx="799.3" cy="508.8" r="1.8" fill="#4fd8a9" stroke="#444" stroke-width="0.9" />
<circle cx="816.8" cy="508.8" r="1.8" fill="#fff" stroke="#444" stroke-width="0.9" />
<circle cx="834.3" cy="508.8" r="1.8" fill="#4fd8a9" stroke="#444" stroke-width="0.9" />
<circle cx="851.8" cy="508.8" r="1.8" fill="#fff" stroke="#444" stroke-width="0.9" />
<circle cx="869.3" cy="508.8" r="1.8" fill="#4fd8a9" stroke="#444" stroke-width="0.9" />
<circle cx="886.8" cy="508.8" r="1.8" fill="#fff" stroke="#444" stroke-width="0.9" />
<circle cx="1254.4" cy="508.8" r="1.8" fill="#fff" stroke="#444" stroke-width="0.9" />
<circle cx="1271.94" cy="508.8" r="1.8" fill="#4fd8a9" stroke="#444" stroke-width="0.9" />
<circle cx="1289.48" cy="508.8" r="1.8" fill="#fff" stroke="#444" stroke-width="0.9" />
<circle cx="1307.02" cy="508.8" r="1.8" fill="#4fd8a9" stroke="#444" stroke-width="0.9" />
<circle cx="1324.56" cy="508.8" r="1.8" fill="#fff" stroke="#444" stroke-width="0.9" />
<circle cx="1342.1" cy="508.8" r="1.8" fill="#4fd8a9" stroke="#444" stroke-width="0.9" />
<circle cx="1359.64" cy="508.8" r="1.8" fill="#fff" stroke="#444" stroke-width="0.9" />
<circle cx="1377.18" cy="508.8" r="1.8" fill="#4fd8a9" stroke="#444" stroke-width="0.9" />
<circle cx="1394.72" cy="508.8" r="1.8" fill="#fff" stroke="#444" stroke-width="0.9" />
<circle cx="1000.7" cy="508.8" r="1.8" fill="#fff" stroke="#444" stroke-width="0.9" />
<circle cx="1018.25" cy="508.8" r="1.8" fill="#4fd8a9" stroke="#444" stroke-width="0.9" />
<circle cx="1035.8" cy="508.8" r="1.8" fill="#fff" stroke="#444" stroke-width="0.9" />
<circle cx="1053.35" cy="508.8" r="1.8" fill="#4fd8a9" stroke="#444" stroke-width="0.9" />
<circle cx="1070.9" cy="508.8" r="1.8" fill="#fff" stroke="#444" stroke-width="0.9" />
<circle cx="1088.45" cy="508.8" r="1.8" fill="#4fd8a9" stroke="#444" stroke-width="0.9" />
<circle cx="1106" cy="508.8" r="1.8" fill="#fff" stroke="#444" stroke-width="0.9" />
<circle cx="1123.55" cy="508.8" r="1.8" fill="#4fd8a9" stroke="#444" stroke-width="0.9" />
<circle cx="1141.1" cy="508.8" r="1.8" fill="#fff" stroke="#444" stroke-width="0.9" />
<rect x="677.3" y="536.7" width="126" height="25.7" rx="12.85" fill="#4fd8a9" stroke="none" stroke-width="0" />
<text x="740.3" y="553.2" font-size="10.4" font-weight="normal" fill="#15201b" text-anchor="middle" stroke="#15201b" stroke-width="0.35" textLength="83" lengthAdjust="spacingAndGlyphs">CONTENTS&#160;&#160;HUB</text>
<rect x="990.6" y="536.7" width="160.3" height="25.7" rx="12.85" fill="#4fd8a9" stroke="none" stroke-width="0" />
<text x="1070.75" y="553.2" font-size="10.4" font-weight="normal" fill="#15201b" text-anchor="middle" stroke="#15201b" stroke-width="0.35" textLength="106" lengthAdjust="spacingAndGlyphs">KNOWLEDGE&#160;&#160;GRAPH</text>
<rect x="1336.4" y="536.7" width="126.2" height="25.7" rx="12.85" fill="#4fd8a9" stroke="none" stroke-width="0" />
<text x="1399.5" y="553.2" font-size="10.4" font-weight="normal" fill="#15201b" text-anchor="middle" stroke="#15201b" stroke-width="0.35" textLength="93" lengthAdjust="spacingAndGlyphs">USER INFOMETRIC</text>
<ellipse cx="836.5" cy="677" rx="66.5" ry="50.5" fill="#bfeedd" stroke="#4fd8a9" stroke-width="0.8"/>
<ellipse cx="1305" cy="676.7" rx="76" ry="50" fill="#bfeedd" stroke="#4fd8a9" stroke-width="0.8"/>
<line x1="903" y1="675.7" x2="1229" y2="675.7" stroke="#4fd8a9" stroke-width="1.3" stroke-dasharray="2.2 3"/>
<path d="M1024.8,660 V669 A45.7,33.5 0 0 0 1116.2,669 V660" fill="none" stroke="#bfeedd" stroke-width="7.2" />
<path d="M965.7,624 A26.3,11 0 0 1 1018.3,624 V635.7 A26.3,11 0 0 1 965.7,635.7 Z" fill="#fbfbfb" stroke="#2e2e2e" stroke-width="1.1" />
<path d="M965.7,624 A26.3,11 0 0 0 1018.3,624" fill="none" stroke="#2e2e2e" stroke-width="1.1" />
<ellipse cx="992" cy="624" rx="26.3" ry="11" fill="#ffffff" stroke="#2e2e2e" stroke-width="1.1"/>
<path d="M1122.4,624 A26.6,11 0 0 1 1175.6,624 V635.7 A26.6,11 0 0 1 1122.4,635.7 Z" fill="#fbfbfb" stroke="#2e2e2e" stroke-width="1.1" />
<path d="M1122.4,624 A26.6,11 0 0 0 1175.6,624" fill="none" stroke="#2e2e2e" stroke-width="1.1" />
<ellipse cx="1149" cy="624" rx="26.6" ry="11" fill="#ffffff" stroke="#2e2e2e" stroke-width="1.1"/>
<path d="M961.3,719.3 A28.5,11.2 0 0 1 1018.3,719.3 V732.1 A28.5,11.2 0 0 1 961.3,732.1 Z" fill="#fbfbfb" stroke="#2e2e2e" stroke-width="1.1" />
<path d="M961.3,719.3 A28.5,11.2 0 0 0 1018.3,719.3" fill="none" stroke="#2e2e2e" stroke-width="1.1" />
<ellipse cx="989.8" cy="719.3" rx="28.5" ry="11.2" fill="#ffffff" stroke="#2e2e2e" stroke-width="1.1"/>
<path d="M1122.5,719.3 A28.7,11.2 0 0 1 1179.9,719.3 V732.1 A28.7,11.2 0 0 1 1122.5,732.1 Z" fill="#fbfbfb" stroke="#2e2e2e" stroke-width="1.1" />
<path d="M1122.5,719.3 A28.7,11.2 0 0 0 1179.9,719.3" fill="none" stroke="#2e2e2e" stroke-width="1.1" />
<ellipse cx="1151.2" cy="719.3" rx="28.7" ry="11.2" fill="#ffffff" stroke="#2e2e2e" stroke-width="1.1"/>
<path d="M1030,669 V682 A40,14 0 0 0 1110,682 V669" fill="#fbfbfb" stroke="#2e2e2e" stroke-width="1.1" />
<ellipse cx="1070" cy="669" rx="40" ry="14" fill="#f4f5f5" stroke="#2e2e2e" stroke-width="1.1"/>
<path d="M894,584.5 C960,590 975,648 1022.5,649.2" fill="none" stroke="#4fd8a9" stroke-width="1.4" stroke-linecap="round"/>
<path d="M910.5,629.7 C960,630 985,649 1022.5,649.2" fill="none" stroke="#4fd8a9" stroke-width="1.4" stroke-linecap="round"/>
<path d="M865.5,688 C930,685 960,651 1022.5,649.2" fill="none" stroke="#4fd8a9" stroke-width="1.4" stroke-linecap="round"/>
<path d="M1119.8,648.6 C1200,650 1220,711 1283.4,711.6" fill="none" stroke="#4fd8a9" stroke-width="1.4" stroke-linecap="round"/>
<path d="M1070.8,684 C1060,715 1045,722 1019.2,722.5" fill="none" stroke="#4fd8a9" stroke-width="1.4" stroke-linecap="round"/>
<path d="M1070.8,684 C1081,715 1096,722 1122.5,722.5" fill="none" stroke="#4fd8a9" stroke-width="1.4" stroke-linecap="round"/>
<rect x="967.4" y="573.4" width="46.6" height="48" rx="6" fill="#fff" stroke="#333" stroke-width="1.0" />
<rect x="968.7" y="575" width="46.6" height="48" rx="6" fill="#fff" stroke="#2e2e2e" stroke-width="1.2" />
<rect x="1126.6" y="573.4" width="47.2" height="48" rx="6" fill="#fff" stroke="#333" stroke-width="1.0" />
<rect x="1125.3" y="575" width="47.2" height="48" rx="6" fill="#fff" stroke="#2e2e2e" stroke-width="1.2" />
<rect x="965.4" y="668.4" width="46.6" height="47.5" rx="6" fill="#fff" stroke="#333" stroke-width="1.0" />
<rect x="966.7" y="670" width="46.6" height="47.5" rx="6" fill="#fff" stroke="#2e2e2e" stroke-width="1.2" />
<rect x="1129.3" y="668.4" width="47" height="47.5" rx="6" fill="#fff" stroke="#333" stroke-width="1.0" />
<rect x="1128" y="670" width="47" height="47.5" rx="6" fill="#fff" stroke="#2e2e2e" stroke-width="1.2" />
<circle cx="992" cy="588.1" r="4.7" fill="#fff" stroke="#333" stroke-width="1.0" />
<line x1="992" y1="592.8" x2="992" y2="609.5" stroke="#2e2e2e" stroke-width="1.0" />
<path d="M977.6,609.5 V602.6 H1006.8 V609.5" fill="none" stroke="#2e2e2e" stroke-width="1.0" />
<path d="M977.6,609.8 L979.6,611.8 L977.6,613.8 L975.6,611.8 Z" fill="#fff" stroke="#333" stroke-width="0.8" />
<path d="M992,609.8 L994,611.8 L992,613.8 L990,611.8 Z" fill="#fff" stroke="#333" stroke-width="0.8" />
<path d="M1006.8,609.8 L1008.8,611.8 L1006.8,613.8 L1004.8,611.8 Z" fill="#fff" stroke="#333" stroke-width="0.8" />
<circle cx="992" cy="603" r="1.5" fill="#4fd8a9" stroke="none" stroke-width="0" />
<circle cx="1148.6" cy="588.1" r="4.7" fill="#fff" stroke="#333" stroke-width="1.0" />
<line x1="1148.6" y1="592.8" x2="1148.6" y2="609.5" stroke="#2e2e2e" stroke-width="1.0" />
<path d="M1134.2,609.5 V602.6 H1163.4 V609.5" fill="none" stroke="#2e2e2e" stroke-width="1.0" />
<path d="M1134.2,609.8 L1136.2,611.8 L1134.2,613.8 L1132.2,611.8 Z" fill="#fff" stroke="#333" stroke-width="0.8" />
<path d="M1148.6,609.8 L1150.6,611.8 L1148.6,613.8 L1146.6,611.8 Z" fill="#fff" stroke="#333" stroke-width="0.8" />
<path d="M1163.4,609.8 L1165.4,611.8 L1163.4,613.8 L1161.4,611.8 Z" fill="#fff" stroke="#333" stroke-width="0.8" />
<circle cx="1134.2" cy="607.5" r="1.5" fill="#4fd8a9" stroke="none" stroke-width="0" />
<circle cx="1002.5" cy="694.6" r="4.5" fill="#fff" stroke="#333" stroke-width="1.0" />
<line x1="987.5" y1="694.6" x2="998" y2="694.6" stroke="#2e2e2e" stroke-width="1.0" />
<path d="M978.5,679.8 H987.5 V708.8 H978.5" fill="none" stroke="#2e2e2e" stroke-width="1.0" />
<path d="M977,677.8 L979,679.8 L977,681.8 L975,679.8 Z" fill="#fff" stroke="#333" stroke-width="0.8" />
<path d="M977,692.6 L979,694.6 L977,696.6 L975,694.6 Z" fill="#fff" stroke="#333" stroke-width="0.8" />
<path d="M977,706.8 L979,708.8 L977,710.8 L975,708.8 Z" fill="#fff" stroke="#333" stroke-width="0.8" />
<circle cx="980.5" cy="694.3" r="1.5" fill="#4fd8a9" stroke="none" stroke-width="0" />
<circle cx="990.6" cy="694.3" r="1.5" fill="#4fd8a9" stroke="none" stroke-width="0" />
<circle cx="1139.7" cy="694.6" r="4.5" fill="#fff" stroke="#333" stroke-width="1.0" />
<line x1="1144.2" y1="694.6" x2="1154.2" y2="694.6" stroke="#2e2e2e" stroke-width="1.0" />
<path d="M1163.7,679.8 H1154.2 V708.8 H1163.7" fill="none" stroke="#2e2e2e" stroke-width="1.0" />
<line x1="1154.2" y1="694.6" x2="1163.7" y2="694.6" stroke="#2e2e2e" stroke-width="1.0" />
<path d="M1164.3,677.8 L1166.3,679.8 L1164.3,681.8 L1162.3,679.8 Z" fill="#fff" stroke="#333" stroke-width="0.8" />
<path d="M1164.3,692.6 L1166.3,694.6 L1164.3,696.6 L1162.3,694.6 Z" fill="#fff" stroke="#333" stroke-width="0.8" />
<path d="M1164.3,706.8 L1166.3,708.8 L1164.3,710.8 L1162.3,708.8 Z" fill="#fff" stroke="#333" stroke-width="0.8" />
<circle cx="1154.2" cy="694.6" r="1.5" fill="#4fd8a9" stroke="none" stroke-width="0" />
<circle cx="1158.5" cy="679.8" r="1.5" fill="#4fd8a9" stroke="none" stroke-width="0" />
<rect x="1024" y="631.6" width="96.7" height="31" rx="4" fill="#fff" stroke="#333" stroke-width="1.0" />
<rect x="1022.5" y="633.3" width="96.7" height="31" rx="4" fill="#fff" stroke="#2e2e2e" stroke-width="1.2" />
<path d="M1066.5,633.3 L1070.8,624 L1075,633.3" fill="#fff" stroke="#333" stroke-width="0.9" />
<circle cx="1070.8" cy="622.5" r="5.5" fill="none" stroke="#4fd8a9" stroke-width="0.8" />
<circle cx="1070.8" cy="622.5" r="3.3" fill="none" stroke="#4fd8a9" stroke-width="1.0" />
<circle cx="1070.8" cy="622.5" r="1.7" fill="#fff" stroke="#222" stroke-width="0.9" />
<rect x="1033.6" y="637.7" width="7.8" height="23" rx="1.6" fill="#fff" stroke="#2e2e2e" stroke-width="1.0" />
<line x1="1037.5" y1="641" x2="1037.5" y2="657" stroke="#2e2e2e" stroke-width="0.9" />
<path d="M1035.8,655 H1039.2 L1037.5,657.5 Z" fill="#fff" stroke="#2e2e2e" stroke-width="0.7" />
<path d="M1041.4,641.3 H1050 V657.3 H1041.4 M1041.4,649.3 H1050" fill="none" stroke="#2e2e2e" stroke-width="1.0" />
<line x1="1050" y1="649.3" x2="1063" y2="649.3" stroke="#2e2e2e" stroke-width="1.0" />
<circle cx="1070.8" cy="649.3" r="7.7" fill="#fff" stroke="#222" stroke-width="1.0" />
<ellipse cx="1070.8" cy="649.3" rx="3.6" ry="7.7" fill="none" stroke="#222" stroke-width="0.9"/>
<line x1="1063.1" y1="649.3" x2="1078.5" y2="649.3" stroke="#2e2e2e" stroke-width="0.9" />
<line x1="1064.5" y1="645" x2="1077" y2="645" stroke="#2e2e2e" stroke-width="0.8" />
<line x1="1064.5" y1="653.6" x2="1077" y2="653.6" stroke="#2e2e2e" stroke-width="0.8" />
<line x1="1078.5" y1="649.3" x2="1091" y2="649.3" stroke="#2e2e2e" stroke-width="1.0" />
<path d="M1099.5,641.3 H1091 V657.3 H1099.5 M1091,649.3 H1099.5" fill="none" stroke="#2e2e2e" stroke-width="1.0" />
<rect x="1100" y="637.7" width="7.8" height="23" rx="2" fill="#fff" stroke="#2e2e2e" stroke-width="1.0" />
<line x1="1103.9" y1="641.5" x2="1103.9" y2="657" stroke="#2e2e2e" stroke-width="0.9" />
<circle cx="1103.9" cy="643.5" r="1.8" fill="#fff" stroke="#2e2e2e" stroke-width="0.8" />
<circle cx="1050.5" cy="649.3" r="1" fill="#4fd8a9" stroke="none" stroke-width="0" />
<circle cx="1090.5" cy="649.3" r="1" fill="#4fd8a9" stroke="none" stroke-width="0" />
<path d="M1026.5,642 A7.5,7.5 0 0 1 1026.5,656.5" fill="none" stroke="#4fd8a9" stroke-width="0.9" stroke-dasharray="2 1.6"/>
<circle cx="1022.5" cy="649" r="4.7" fill="none" stroke="#4fd8a9" stroke-width="0.7" />
<circle cx="1022.5" cy="649" r="2.3" fill="#4fd8a9" stroke="none" stroke-width="0" />
<path d="M1115.8,642 A7.5,7.5 0 0 0 1115.8,656.5" fill="none" stroke="#4fd8a9" stroke-width="0.9" stroke-dasharray="2 1.6"/>
<circle cx="1119.8" cy="649" r="4.7" fill="none" stroke="#4fd8a9" stroke-width="0.7" />
<circle cx="1119.8" cy="649" r="2.3" fill="#4fd8a9" stroke="none" stroke-width="0" />
<circle cx="1070.8" cy="684" r="4.9" fill="none" stroke="#4fd8a9" stroke-width="0.7" />
<circle cx="1070.8" cy="684" r="2.5" fill="#4fd8a9" stroke="none" stroke-width="0" />
<circle cx="1019.2" cy="722.5" r="4.4" fill="none" stroke="#4fd8a9" stroke-width="0.7" />
<circle cx="1019.2" cy="722.5" r="2" fill="#4fd8a9" stroke="none" stroke-width="0" />
<circle cx="1122.5" cy="722.5" r="4.4" fill="none" stroke="#4fd8a9" stroke-width="0.7" />
<circle cx="1122.5" cy="722.5" r="2" fill="#4fd8a9" stroke="none" stroke-width="0" />
<path d="M910.5,629.7 C930,622 945,600 968.7,598.7" fill="none" stroke="#222" stroke-width="1.3" stroke-dasharray="3.2 2.4"/>
<path d="M910.5,629.7 C935,628 950,602 968.7,598.7" fill="none" stroke="#222" stroke-width="1.3" stroke-dasharray="3.2 2.4"/>
<path d="M894,584.5 L929,567.5" fill="none" stroke="#222" stroke-width="1.3" stroke-dasharray="3.2 2.4"/>
<path d="M910.5,653.3 C950,656 945,695 966.7,694.7" fill="none" stroke="#222" stroke-width="1.3" stroke-dasharray="3.2 2.4"/>
<path d="M865.5,711.7 C900,712 930,696 966.7,694.7" fill="none" stroke="#222" stroke-width="1.3" stroke-dasharray="3.2 2.4"/>
<path d="M865.5,688 L900,663" fill="none" stroke="#222" stroke-width="1.3" stroke-dasharray="3.2 2.4"/>
<path d="M1173,599 C1195,596 1210,588 1234.6,587" fill="none" stroke="#222" stroke-width="1.3" stroke-dasharray="3.2 2.4"/>
<path d="M1197.7,576.4 L1234.6,587" fill="none" stroke="#222" stroke-width="1.3" stroke-dasharray="3.2 2.4"/>
<path d="M1173,599 C1215,606 1210,646 1250,646.5" fill="none" stroke="#222" stroke-width="1.3" stroke-dasharray="3.2 2.4"/>
<path d="M1174.6,695 C1215,697 1250,711 1283.4,711.6" fill="none" stroke="#222" stroke-width="1.3" stroke-dasharray="3.2 2.4"/>
<path d="M1174.6,695 C1215,693 1265,676 1306.7,676.2" fill="none" stroke="#222" stroke-width="1.3" stroke-dasharray="3.2 2.4"/>
<path d="M1244.5,683.3 C1262,690 1270,703 1283.4,711.6" fill="none" stroke="#222" stroke-width="1.3" stroke-dasharray="3.2 2.4"/>
<rect x="740.8" y="571.9" width="60.5" height="79.5" rx="5.5" fill="#fff" stroke="#333" stroke-width="1.0" />
<rect x="739.4" y="573.5" width="60.5" height="79.5" rx="5.5" fill="#fff" stroke="#2e2e2e" stroke-width="1.2" />
<line x1="800.6" y1="579.5" x2="800.6" y2="648" stroke="#333" stroke-width="1.6" />
<text x="744.6" y="586.1" font-size="6.5" font-weight="normal" fill="#5e5e5e" text-anchor="start" stroke="#5e5e5e" stroke-width="0.12" textLength="37" lengthAdjust="spacing">LECTURE_B</text>
<rect x="743.7" y="593.7" width="14.6" height="6.4" rx="3.2" fill="#fff" stroke="#3a3a3a" stroke-width="0.9" />
<circle cx="747" cy="596.9" r="1.3" fill="#fff" stroke="#333" stroke-width="0.7" />
<rect x="761.9" y="593.7" width="14.6" height="6.4" rx="3.2" fill="#fff" stroke="#3a3a3a" stroke-width="0.9" />
<circle cx="765.2" cy="596.9" r="1.15" fill="#4fd8a9" stroke="none" stroke-width="0" />
<rect x="780.1" y="593.7" width="14.6" height="6.4" rx="3.2" fill="#fff" stroke="#3a3a3a" stroke-width="0.9" />
<circle cx="783.4" cy="596.9" r="1.15" fill="#4fd8a9" stroke="none" stroke-width="0" />
<rect x="743.7" y="606.3" width="14.6" height="6.4" rx="3.2" fill="#fff" stroke="#3a3a3a" stroke-width="0.9" />
<circle cx="747" cy="609.5" r="1.3" fill="#fff" stroke="#333" stroke-width="0.7" />
<rect x="761.9" y="606.3" width="14.6" height="6.4" rx="3.2" fill="#fff" stroke="#3a3a3a" stroke-width="0.9" />
<circle cx="765.2" cy="609.5" r="1.3" fill="#fff" stroke="#333" stroke-width="0.7" />
<rect x="780.1" y="606.3" width="14.6" height="6.4" rx="3.2" fill="#fff" stroke="#c8c8c8" stroke-width="0.9" />
<circle cx="783.4" cy="609.5" r="1.15" fill="#4fd8a9" stroke="none" stroke-width="0" />
<rect x="835.15" y="572.9" width="60.6" height="79.5" rx="5.5" fill="#fff" stroke="#333" stroke-width="1.0" />
<rect x="833.75" y="574.5" width="60.6" height="79.5" rx="5.5" fill="#fff" stroke="#2e2e2e" stroke-width="1.2" />
<line x1="895.05" y1="580.5" x2="895.05" y2="649" stroke="#333" stroke-width="1.6" />
<text x="838.95" y="587.1" font-size="6.5" font-weight="normal" fill="#5e5e5e" text-anchor="start" stroke="#5e5e5e" stroke-width="0.12" textLength="31" lengthAdjust="spacing">PROGRAM</text>
<rect x="838.05" y="594.7" width="14.6" height="6.4" rx="3.2" fill="#fff" stroke="#3a3a3a" stroke-width="0.9" />
<circle cx="841.35" cy="597.9" r="1.15" fill="#4fd8a9" stroke="none" stroke-width="0" />
<rect x="856.25" y="594.7" width="14.6" height="6.4" rx="3.2" fill="#fff" stroke="#3a3a3a" stroke-width="0.9" />
<circle cx="859.55" cy="597.9" r="1.3" fill="#fff" stroke="#333" stroke-width="0.7" />
<rect x="874.45" y="594.7" width="14.6" height="6.4" rx="3.2" fill="#fff" stroke="#3a3a3a" stroke-width="0.9" />
<circle cx="877.75" cy="597.9" r="1.3" fill="#fff" stroke="#333" stroke-width="0.7" />
<rect x="838.05" y="607.3" width="14.6" height="6.4" rx="3.2" fill="#fff" stroke="#3a3a3a" stroke-width="0.9" />
<circle cx="841.35" cy="610.5" r="1.15" fill="#4fd8a9" stroke="none" stroke-width="0" />
<rect x="856.25" y="607.3" width="14.6" height="6.4" rx="3.2" fill="#fff" stroke="#3a3a3a" stroke-width="0.9" />
<circle cx="859.55" cy="610.5" r="1.3" fill="#fff" stroke="#333" stroke-width="0.7" />
<rect x="874.45" y="607.3" width="14.6" height="6.4" rx="3.2" fill="#fff" stroke="#c8c8c8" stroke-width="0.9" />
<circle cx="877.75" cy="610.5" r="1.15" fill="#4fd8a9" stroke="none" stroke-width="0" />
<rect x="759" y="619.4" width="61" height="80" rx="5.5" fill="#fff" stroke="#333" stroke-width="1.0" />
<rect x="757.6" y="621" width="61" height="80" rx="5.5" fill="#fff" stroke="#2e2e2e" stroke-width="1.2" />
<line x1="819.3" y1="627" x2="819.3" y2="696" stroke="#333" stroke-width="1.6" />
<text x="762.8" y="633.6" font-size="6.5" font-weight="normal" fill="#5e5e5e" text-anchor="start" stroke="#5e5e5e" stroke-width="0.12" textLength="19" lengthAdjust="spacing">BOOK</text>
<rect x="761.9" y="641.2" width="14.6" height="6.4" rx="3.2" fill="#fff" stroke="#3a3a3a" stroke-width="0.9" />
<circle cx="765.2" cy="644.4" r="1.15" fill="#4fd8a9" stroke="none" stroke-width="0" />
<rect x="780.1" y="641.2" width="14.6" height="6.4" rx="3.2" fill="#fff" stroke="#3a3a3a" stroke-width="0.9" />
<circle cx="783.4" cy="644.4" r="1.3" fill="#fff" stroke="#333" stroke-width="0.7" />
<rect x="798.3" y="641.2" width="14.6" height="6.4" rx="3.2" fill="#fff" stroke="#3a3a3a" stroke-width="0.9" />
<circle cx="801.6" cy="644.4" r="1.3" fill="#fff" stroke="#333" stroke-width="0.7" />
<rect x="761.9" y="653.8" width="14.6" height="6.4" rx="3.2" fill="#fff" stroke="#3a3a3a" stroke-width="0.9" />
<circle cx="765.2" cy="657" r="1.3" fill="#fff" stroke="#333" stroke-width="0.7" />
<rect x="780.1" y="653.8" width="14.6" height="6.4" rx="3.2" fill="#fff" stroke="#3a3a3a" stroke-width="0.9" />
<circle cx="783.4" cy="657" r="1.3" fill="#fff" stroke="#333" stroke-width="0.7" />
<rect x="798.3" y="653.8" width="14.6" height="6.4" rx="3.2" fill="#fff" stroke="#c8c8c8" stroke-width="0.9" />
<circle cx="801.6" cy="657" r="1.15" fill="#4fd8a9" stroke="none" stroke-width="0" />
<rect x="631.9" y="661.9" width="60.8" height="48.5" rx="5.5" fill="#fff" stroke="#333" stroke-width="1.0" />
<rect x="630.5" y="663.5" width="60.8" height="48.5" rx="5.5" fill="#fff" stroke="#2e2e2e" stroke-width="1.2" />
<line x1="692" y1="669.5" x2="692" y2="707" stroke="#333" stroke-width="1.6" />
<text x="635.7" y="676.1" font-size="6.5" font-weight="normal" fill="#5e5e5e" text-anchor="start" stroke="#5e5e5e" stroke-width="0.12" textLength="19" lengthAdjust="spacing">BOOK</text>
<rect x="634.8" y="683.7" width="14.6" height="6.4" rx="3.2" fill="#fff" stroke="#3a3a3a" stroke-width="0.9" />
<circle cx="638.1" cy="686.9" r="1.3" fill="#fff" stroke="#333" stroke-width="0.7" />
<rect x="653" y="683.7" width="14.6" height="6.4" rx="3.2" fill="#fff" stroke="#3a3a3a" stroke-width="0.9" />
<circle cx="656.3" cy="686.9" r="1.15" fill="#4fd8a9" stroke="none" stroke-width="0" />
<rect x="671.2" y="683.7" width="14.6" height="6.4" rx="3.2" fill="#fff" stroke="#3a3a3a" stroke-width="0.9" />
<circle cx="674.5" cy="686.9" r="1.15" fill="#4fd8a9" stroke="none" stroke-width="0" />
<rect x="634.8" y="696.3" width="14.6" height="6.4" rx="3.2" fill="#fff" stroke="#3a3a3a" stroke-width="0.9" />
<circle cx="638.1" cy="699.5" r="1.3" fill="#fff" stroke="#333" stroke-width="0.7" />
<rect x="653" y="696.3" width="14.6" height="6.4" rx="3.2" fill="#fff" stroke="#3a3a3a" stroke-width="0.9" />
<circle cx="656.3" cy="699.5" r="1.3" fill="#fff" stroke="#333" stroke-width="0.7" />
<rect x="671.2" y="696.3" width="14.6" height="6.4" rx="3.2" fill="#fff" stroke="#3a3a3a" stroke-width="0.9" />
<circle cx="674.5" cy="699.5" r="1.15" fill="#4fd8a9" stroke="none" stroke-width="0" />
<rect x="714.7" y="662.7" width="61" height="79.7" rx="5.5" fill="#fff" stroke="#333" stroke-width="1.0" />
<rect x="713.3" y="664.3" width="61" height="79.7" rx="5.5" fill="#fff" stroke="#2e2e2e" stroke-width="1.2" />
<line x1="775" y1="670.3" x2="775" y2="739" stroke="#333" stroke-width="1.6" />
<text x="718.5" y="676.9" font-size="6.5" font-weight="normal" fill="#5e5e5e" text-anchor="start" stroke="#5e5e5e" stroke-width="0.12" textLength="37" lengthAdjust="spacing">LECTURE_A</text>
<rect x="717.6" y="684.5" width="14.6" height="6.4" rx="3.2" fill="#fff" stroke="#3a3a3a" stroke-width="0.9" />
<circle cx="720.9" cy="687.7" r="1.15" fill="#4fd8a9" stroke="none" stroke-width="0" />
<rect x="735.8" y="684.5" width="14.6" height="6.4" rx="3.2" fill="#fff" stroke="#3a3a3a" stroke-width="0.9" />
<circle cx="739.1" cy="687.7" r="1.3" fill="#fff" stroke="#333" stroke-width="0.7" />
<rect x="754" y="684.5" width="14.6" height="6.4" rx="3.2" fill="#fff" stroke="#3a3a3a" stroke-width="0.9" />
<circle cx="757.3" cy="687.7" r="1.15" fill="#4fd8a9" stroke="none" stroke-width="0" />
<rect x="717.6" y="697.1" width="14.6" height="6.4" rx="3.2" fill="#fff" stroke="#3a3a3a" stroke-width="0.9" />
<circle cx="720.9" cy="700.3" r="1.3" fill="#fff" stroke="#333" stroke-width="0.7" />
<rect x="735.8" y="697.1" width="14.6" height="6.4" rx="3.2" fill="#fff" stroke="#3a3a3a" stroke-width="0.9" />
<circle cx="739.1" cy="700.3" r="1.15" fill="#4fd8a9" stroke="none" stroke-width="0" />
<rect x="754" y="697.1" width="14.6" height="6.4" rx="3.2" fill="#fff" stroke="#c8c8c8" stroke-width="0.9" />
<circle cx="757.3" cy="700.3" r="1.15" fill="#4fd8a9" stroke="none" stroke-width="0" />
<path d="M808.3,682.5 L850,652.5" fill="none" stroke="#222" stroke-width="1.3" stroke-dasharray="3.2 2.4"/>
<path d="M724.6,629.6 C745,630 740,641.6 757.8,641.6" stroke="#111" stroke-width="1.3" fill="none"/>
<path d="M691,675.5 C720,672 735,648 757.8,641.6" stroke="#111" stroke-width="1.3" fill="none"/>
<path d="M798.9,583.8 C830,584 825,623 855.3,623.3" stroke="#111" stroke-width="1.3" fill="none"/>
<path d="M818.2,632 C840,632 838,646.5 855.3,646.5" stroke="#111" stroke-width="1.3" fill="none"/>
<path d="M773.4,674.6 C795,676 795,682.5 808.3,682.5" stroke="#111" stroke-width="1.3" fill="none"/>
<path d="M773.4,728 C795,728 790,706.3 808.3,706.3" stroke="#111" stroke-width="1.3" fill="none"/>
<path d="M1292.2,617 C1320,600 1335,588.7 1366.3,588.7" stroke="#111" stroke-width="1.3" fill="none"/>
<path d="M1407,668 C1430,662 1420,630.3 1434.2,630.3" stroke="#111" stroke-width="1.3" fill="none"/>
<path d="M1343.3,646.7 C1330,650 1328,660 1323.3,666.7" stroke="#111" stroke-width="1.3" fill="none"/>
<path d="M1319.7,724.5 C1340,724 1345,706.3 1359.2,706.3" stroke="#111" stroke-width="1.3" fill="none"/>
<rect x="667.6" y="619.6" width="62.3" height="14.8" rx="7.4" fill="#fff" stroke="#333" stroke-width="0.9" />
<rect x="666.2" y="621.2" width="62.3" height="14.8" rx="7.4" fill="#fff" stroke="#2e2e2e" stroke-width="1.1" />
<path d="M670.7,626 H679.7 L682.5,629 L679.7,632 H670.7 Z" fill="#4fd8a9" stroke="none" stroke-width="0" />
<circle cx="679.7" cy="629" r="0.8" fill="#fff" stroke="none" stroke-width="0" />
<text x="684.4" y="631.5" font-size="6" font-weight="normal" fill="#2a2a2a" text-anchor="start" stroke="#2a2a2a" stroke-width="0.15" textLength="31" lengthAdjust="spacing"># 17801.04</text>
<rect x="853.4" y="621.6" width="62.3" height="14.8" rx="7.4" fill="#fff" stroke="#333" stroke-width="0.9" />
<rect x="852" y="623.2" width="62.3" height="14.8" rx="7.4" fill="#fff" stroke="#2e2e2e" stroke-width="1.1" />
<path d="M856.5,628 H865.5 L868.3,631 L865.5,634 H856.5 Z" fill="#4fd8a9" stroke="none" stroke-width="0" />
<circle cx="865.5" cy="631" r="0.8" fill="#fff" stroke="none" stroke-width="0" />
<text x="870.2" y="633.5" font-size="6" font-weight="normal" fill="#2a2a2a" text-anchor="start" stroke="#2a2a2a" stroke-width="0.15" textLength="31" lengthAdjust="spacing"># 25860.43</text>
<rect x="853.4" y="644.4" width="62.3" height="14.8" rx="7.4" fill="#fff" stroke="#333" stroke-width="0.9" />
<rect x="852" y="646" width="62.3" height="14.8" rx="7.4" fill="#fff" stroke="#2e2e2e" stroke-width="1.1" />
<path d="M856.5,650.8 H865.5 L868.3,653.8 L865.5,656.8 H856.5 Z" fill="#4fd8a9" stroke="none" stroke-width="0" />
<circle cx="865.5" cy="653.8" r="0.8" fill="#fff" stroke="none" stroke-width="0" />
<text x="870.2" y="656.3" font-size="6" font-weight="normal" fill="#2a2a2a" text-anchor="start" stroke="#2a2a2a" stroke-width="0.15" textLength="31" lengthAdjust="spacing"># 21966.78</text>
<rect x="808.1" y="679.4" width="62.3" height="14.8" rx="7.4" fill="#fff" stroke="#333" stroke-width="0.9" />
<rect x="806.7" y="681" width="62.3" height="14.8" rx="7.4" fill="#fff" stroke="#2e2e2e" stroke-width="1.1" />
<path d="M811.2,685.8 H820.2 L823,688.8 L820.2,691.8 H811.2 Z" fill="#4fd8a9" stroke="none" stroke-width="0" />
<circle cx="820.2" cy="688.8" r="0.8" fill="#fff" stroke="none" stroke-width="0" />
<text x="824.9" y="691.3" font-size="6" font-weight="normal" fill="#2a2a2a" text-anchor="start" stroke="#2a2a2a" stroke-width="0.15" textLength="31" lengthAdjust="spacing"># 18746.57</text>
<rect x="808.1" y="702.2" width="62.3" height="14.8" rx="7.4" fill="#fff" stroke="#333" stroke-width="0.9" />
<rect x="806.7" y="703.8" width="62.3" height="14.8" rx="7.4" fill="#fff" stroke="#2e2e2e" stroke-width="1.1" />
<path d="M811.2,708.6 H820.2 L823,711.6 L820.2,714.6 H811.2 Z" fill="#4fd8a9" stroke="none" stroke-width="0" />
<circle cx="820.2" cy="711.6" r="0.8" fill="#fff" stroke="none" stroke-width="0" />
<text x="824.9" y="714.1" font-size="6" font-weight="normal" fill="#2a2a2a" text-anchor="start" stroke="#2a2a2a" stroke-width="0.15" textLength="31" lengthAdjust="spacing"># 24290.16</text>
<path d="M1236.3,619.4 V581.6 Q1236.3,577.6 1240.3,577.6 H1279 Q1283,577.6 1285,581.6 L1286.5,587.1 Q1288,590.1 1292,590.1 H1296.3 Q1300.3,590.1 1300.3,594.1 V619.4 Q1300.3,623.4 1296.3,623.4 H1240.3 Q1236.3,623.4 1236.3,619.4 Z" fill="#fff" stroke="#333" stroke-width="1.0" />
<path d="M1235,621 V583.2 Q1235,579.2 1239,579.2 H1277.7 Q1281.7,579.2 1283.7,583.2 L1285.2,588.7 Q1286.7,591.7 1290.7,591.7 H1295 Q1299,591.7 1299,595.7 V621 Q1299,625 1295,625 H1239 Q1235,625 1235,621 Z" fill="#fff" stroke="#2e2e2e" stroke-width="1.2" />
<rect x="1242.2" y="581.8" width="36.2" height="10.3" rx="5.1" fill="#fff" stroke="#333" stroke-width="1.0" />
<text x="1260.3" y="589.4" font-size="6.3" font-weight="normal" fill="#555" text-anchor="middle" stroke="#555" stroke-width="0.2" textLength="23.8" lengthAdjust="spacingAndGlyphs" letter-spacing="0.4">USER_A</text>
<line x1="1240.2" y1="599.9" x2="1294.5" y2="599.9" stroke="#8a8a8a" stroke-width="1.7" stroke-dasharray="18.5 4 3 4 4.7 4.5 15"/>
<line x1="1240.2" y1="607.2" x2="1294.5" y2="607.2" stroke="#8a8a8a" stroke-width="1.7" stroke-dasharray="1 4 2.6 3.7 5 4.2 18.5 3.7 7.7"/>
<text x="1239.5" y="617.7" font-size="7" font-weight="bold" fill="#4fd8a9" text-anchor="start" textLength="55" lengthAdjust="spacingAndGlyphs">:XOOOOOXOXO</text>
<path d="M1292.6,649.4 V611.4 Q1292.6,607.4 1296.6,607.4 H1335.3 Q1339.3,607.4 1341.3,611.4 L1342.8,617.9 Q1344.3,620.9 1348.3,620.9 H1352.3 Q1356.3,620.9 1356.3,624.9 V649.4 Q1356.3,653.4 1352.3,653.4 H1296.6 Q1292.6,653.4 1292.6,649.4 Z" fill="#fff" stroke="#333" stroke-width="1.0" />
<path d="M1291.3,651 V613 Q1291.3,609 1295.3,609 H1334 Q1338,609 1340,613 L1341.5,619.5 Q1343,622.5 1347,622.5 H1351 Q1355,622.5 1355,626.5 V651 Q1355,655 1351,655 H1295.3 Q1291.3,655 1291.3,651 Z" fill="#fff" stroke="#2e2e2e" stroke-width="1.2" />
<rect x="1298.5" y="611.6" width="36.2" height="10.3" rx="5.1" fill="#fff" stroke="#333" stroke-width="1.0" />
<text x="1316.6" y="619.2" font-size="6.3" font-weight="normal" fill="#555" text-anchor="middle" stroke="#555" stroke-width="0.2" textLength="23.8" lengthAdjust="spacingAndGlyphs" letter-spacing="0.4">USER_B</text>
<line x1="1296.5" y1="630.7" x2="1350.5" y2="630.7" stroke="#8a8a8a" stroke-width="1.7" stroke-dasharray="18.5 4 3 4 4.7 4.5 15"/>
<line x1="1296.5" y1="638" x2="1350.5" y2="638" stroke="#8a8a8a" stroke-width="1.7" stroke-dasharray="1 4 2.6 3.7 5 4.2 18.5 3.7 7.7"/>
<text x="1295.8" y="648.5" font-size="7" font-weight="bold" fill="#4fd8a9" text-anchor="start" textLength="54.700000000000045" lengthAdjust="spacingAndGlyphs">:XOOOOOXOXO</text>
<path d="M1250.3,678.4 V640.7 Q1250.3,636.7 1254.3,636.7 H1292.8 Q1296.8,636.7 1298.8,640.7 L1300.3,647.1 Q1301.8,650.1 1305.8,650.1 H1310.6 Q1314.6,650.1 1314.6,654.1 V678.4 Q1314.6,682.4 1310.6,682.4 H1254.3 Q1250.3,682.4 1250.3,678.4 Z" fill="#fff" stroke="#333" stroke-width="1.0" />
<path d="M1249,680 V642.3 Q1249,638.3 1253,638.3 H1291.5 Q1295.5,638.3 1297.5,642.3 L1299,648.7 Q1300.5,651.7 1304.5,651.7 H1309.3 Q1313.3,651.7 1313.3,655.7 V680 Q1313.3,684 1309.3,684 H1253 Q1249,684 1249,680 Z" fill="#fff" stroke="#2e2e2e" stroke-width="1.2" />
<rect x="1256.2" y="640.9" width="36" height="10.3" rx="5.1" fill="#fff" stroke="#333" stroke-width="1.0" />
<text x="1274.2" y="648.5" font-size="6.3" font-weight="normal" fill="#555" text-anchor="middle" stroke="#555" stroke-width="0.2" textLength="23.8" lengthAdjust="spacingAndGlyphs" letter-spacing="0.4">USER D</text>
<line x1="1254.2" y1="659.9" x2="1308.8" y2="659.9" stroke="#8a8a8a" stroke-width="1.7" stroke-dasharray="18.5 4 3 4 4.7 4.5 15"/>
<line x1="1254.2" y1="667.2" x2="1308.8" y2="667.2" stroke="#8a8a8a" stroke-width="1.7" stroke-dasharray="1 4 2.6 3.7 5 4.2 18.5 3.7 7.7"/>
<text x="1253.5" y="677.7" font-size="7" font-weight="bold" fill="#4fd8a9" text-anchor="start" textLength="55.299999999999955" lengthAdjust="spacingAndGlyphs">:XOXOXOXOOO</text>
<path d="M1343.8,678.4 V640.7 Q1343.8,636.7 1347.8,636.7 H1385.8 Q1389.8,636.7 1391.8,640.7 L1393.3,647.1 Q1394.8,650.1 1398.8,650.1 H1404 Q1408,650.1 1408,654.1 V678.4 Q1408,682.4 1404,682.4 H1347.8 Q1343.8,682.4 1343.8,678.4 Z" fill="#fff" stroke="#333" stroke-width="1.0" />
<path d="M1342.5,680 V642.3 Q1342.5,638.3 1346.5,638.3 H1384.5 Q1388.5,638.3 1390.5,642.3 L1392,648.7 Q1393.5,651.7 1397.5,651.7 H1402.7 Q1406.7,651.7 1406.7,655.7 V680 Q1406.7,684 1402.7,684 H1346.5 Q1342.5,684 1342.5,680 Z" fill="#fff" stroke="#2e2e2e" stroke-width="1.2" />
<rect x="1349.7" y="640.9" width="35.5" height="10.3" rx="5.1" fill="#fff" stroke="#333" stroke-width="1.0" />
<text x="1367.45" y="648.5" font-size="6.3" font-weight="normal" fill="#555" text-anchor="middle" stroke="#555" stroke-width="0.2" textLength="23.8" lengthAdjust="spacingAndGlyphs" letter-spacing="0.4">USER_C</text>
<line x1="1347.7" y1="659.9" x2="1402.2" y2="659.9" stroke="#8a8a8a" stroke-width="1.7" stroke-dasharray="18.5 4 3 4 4.7 4.5 15"/>
<line x1="1347.7" y1="667.2" x2="1402.2" y2="667.2" stroke="#8a8a8a" stroke-width="1.7" stroke-dasharray="1 4 2.6 3.7 5 4.2 18.5 3.7 7.7"/>
<text x="1347" y="677.7" font-size="7" font-weight="bold" fill="#4fd8a9" text-anchor="start" textLength="55.200000000000045" lengthAdjust="spacingAndGlyphs">:XOOOOOXOXO</text>
<path d="M1307.6,708.4 V670.7 Q1307.6,666.7 1311.6,666.7 H1349.8 Q1353.8,666.7 1355.8,670.7 L1357.3,677.1 Q1358.8,680.1 1362.8,680.1 H1367.3 Q1371.3,680.1 1371.3,684.1 V708.4 Q1371.3,712.4 1367.3,712.4 H1311.6 Q1307.6,712.4 1307.6,708.4 Z" fill="#fff" stroke="#333" stroke-width="1.0" />
<path d="M1306.3,710 V672.3 Q1306.3,668.3 1310.3,668.3 H1348.5 Q1352.5,668.3 1354.5,672.3 L1356,678.7 Q1357.5,681.7 1361.5,681.7 H1366 Q1370,681.7 1370,685.7 V710 Q1370,714 1366,714 H1310.3 Q1306.3,714 1306.3,710 Z" fill="#fff" stroke="#2e2e2e" stroke-width="1.2" />
<rect x="1313.5" y="670.9" width="35.7" height="10.3" rx="5.1" fill="#fff" stroke="#333" stroke-width="1.0" />
<text x="1331.35" y="678.5" font-size="6.3" font-weight="normal" fill="#555" text-anchor="middle" stroke="#555" stroke-width="0.2" textLength="23.8" lengthAdjust="spacingAndGlyphs" letter-spacing="0.4">USER_E</text>
<line x1="1311.5" y1="689.9" x2="1365.5" y2="689.9" stroke="#8a8a8a" stroke-width="1.7" stroke-dasharray="18.5 4 3 4 4.7 4.5 15"/>
<line x1="1311.5" y1="697.2" x2="1365.5" y2="697.2" stroke="#8a8a8a" stroke-width="1.7" stroke-dasharray="1 4 2.6 3.7 5 4.2 18.5 3.7 7.7"/>
<text x="1310.8" y="707.7" font-size="7" font-weight="bold" fill="#4fd8a9" text-anchor="start" textLength="54.700000000000045" lengthAdjust="spacingAndGlyphs">:XOXOXOOOOO</text>
<path d="M1359.6,738.6 V699.9 Q1359.6,695.9 1363.6,695.9 H1402.3 Q1406.3,695.9 1408.3,699.9 L1409.8,706.3 Q1411.3,709.3 1415.3,709.3 H1420.6 Q1424.6,709.3 1424.6,713.3 V738.6 Q1424.6,742.6 1420.6,742.6 H1363.6 Q1359.6,742.6 1359.6,738.6 Z" fill="#fff" stroke="#333" stroke-width="1.0" />
<path d="M1358.3,740.2 V701.5 Q1358.3,697.5 1362.3,697.5 H1401 Q1405,697.5 1407,701.5 L1408.5,707.9 Q1410,710.9 1414,710.9 H1419.3 Q1423.3,710.9 1423.3,714.9 V740.2 Q1423.3,744.2 1419.3,744.2 H1362.3 Q1358.3,744.2 1358.3,740.2 Z" fill="#fff" stroke="#2e2e2e" stroke-width="1.2" />
<rect x="1365.5" y="700.1" width="36.2" height="10.3" rx="5.1" fill="#fff" stroke="#333" stroke-width="1.0" />
<text x="1383.6" y="707.7" font-size="6.3" font-weight="normal" fill="#555" text-anchor="middle" stroke="#555" stroke-width="0.2" textLength="23.8" lengthAdjust="spacingAndGlyphs" letter-spacing="0.4">USER_F</text>
<line x1="1363.5" y1="719.1" x2="1418.8" y2="719.1" stroke="#8a8a8a" stroke-width="1.7" stroke-dasharray="18.5 4 3 4 4.7 4.5 15"/>
<line x1="1363.5" y1="726.4" x2="1418.8" y2="726.4" stroke="#8a8a8a" stroke-width="1.7" stroke-dasharray="1 4 2.6 3.7 5 4.2 18.5 3.7 7.7"/>
<text x="1362.8" y="736.9" font-size="7" font-weight="bold" fill="#4fd8a9" text-anchor="start" textLength="56.0" lengthAdjust="spacingAndGlyphs">:XXOOOOOXOXO</text>
<path d="M1119.8,648.6 C1185,650 1220,616 1291.9,616.7" fill="none" stroke="#4fd8a9" stroke-width="1.4" stroke-linecap="round"/>
<rect x="1366.3" y="579.2" width="37.5" height="37.5" rx="5" fill="#fff" stroke="#333" stroke-width="1.0" />
<rect x="1365" y="580.8" width="37.5" height="37.5" rx="5" fill="#fff" stroke="#2e2e2e" stroke-width="1.2" />
<circle cx="1383.75" cy="599.55" r="13.8" fill="none" stroke="#4fd8a9" stroke-width="1.3" />
<circle cx="1383.75" cy="597.35" r="5.8" fill="none" stroke="#4fd8a9" stroke-width="1.3" />
<path d="M1373.95,609.15 Q1383.75,598.95 1393.55,609.15" fill="none" stroke="#4fd8a9" stroke-width="1.3" />
<rect x="1434.6" y="621.4" width="37.5" height="37.5" rx="5" fill="#fff" stroke="#333" stroke-width="1.0" />
<rect x="1433.3" y="623" width="37.5" height="37.5" rx="5" fill="#fff" stroke="#2e2e2e" stroke-width="1.2" />
<circle cx="1452.05" cy="641.75" r="13.8" fill="none" stroke="#4fd8a9" stroke-width="1.3" />
<circle cx="1452.05" cy="639.55" r="5.8" fill="none" stroke="#4fd8a9" stroke-width="1.3" />
<path d="M1442.25,651.35 Q1452.05,641.15 1461.85,651.35" fill="none" stroke="#4fd8a9" stroke-width="1.3" />
<rect x="1283.8" y="702.1" width="37.5" height="37.5" rx="5" fill="#fff" stroke="#333" stroke-width="1.0" />
<rect x="1282.5" y="703.7" width="37.5" height="37.5" rx="5" fill="#fff" stroke="#2e2e2e" stroke-width="1.2" />
<circle cx="1301.25" cy="722.45" r="13.8" fill="none" stroke="#4fd8a9" stroke-width="1.3" />
<circle cx="1301.25" cy="720.25" r="5.8" fill="none" stroke="#4fd8a9" stroke-width="1.3" />
<path d="M1291.45,732.05 Q1301.25,721.85 1311.05,732.05" fill="none" stroke="#4fd8a9" stroke-width="1.3" />
<path d="M1380,612.5 L1434.2,630.3" fill="none" stroke="#222" stroke-width="1.3" stroke-dasharray="3.2 2.4"/>
<rect x="1324.5" y="702.4" width="13.7" height="15" rx="2" fill="#fff" stroke="#333" stroke-width="0.9" />
<rect x="1323.3" y="704" width="13.7" height="15" rx="2" fill="#fff" stroke="#2e2e2e" stroke-width="1.1" />
<path d="M1326.3,711.5 L1329.5,714.5 L1334.3,708" fill="none" stroke="#4fd8a9" stroke-width="2.0" stroke-linecap="round" stroke-linejoin="round"/>
<circle cx="724.6" cy="629.6" r="4.1" fill="#fff" stroke="#555" stroke-width="0.85" />
<circle cx="724.6" cy="629.6" r="2.2" fill="#111" stroke="none" stroke-width="0" />
<circle cx="757.8" cy="641.6" r="4.1" fill="#fff" stroke="#555" stroke-width="0.85" />
<circle cx="757.8" cy="641.6" r="2.2" fill="#111" stroke="none" stroke-width="0" />
<circle cx="691" cy="675.5" r="4.1" fill="#fff" stroke="#555" stroke-width="0.85" />
<circle cx="691" cy="675.5" r="2.2" fill="#111" stroke="none" stroke-width="0" />
<circle cx="798.9" cy="583.8" r="4.1" fill="#fff" stroke="#555" stroke-width="0.85" />
<circle cx="798.9" cy="583.8" r="2.2" fill="#111" stroke="none" stroke-width="0" />
<circle cx="855.3" cy="623.3" r="4.1" fill="#fff" stroke="#555" stroke-width="0.85" />
<circle cx="855.3" cy="623.3" r="2.2" fill="#111" stroke="none" stroke-width="0" />
<circle cx="818.2" cy="632" r="4.1" fill="#fff" stroke="#555" stroke-width="0.85" />
<circle cx="818.2" cy="632" r="2.2" fill="#111" stroke="none" stroke-width="0" />
<circle cx="855.3" cy="646.5" r="4.1" fill="#fff" stroke="#555" stroke-width="0.85" />
<circle cx="855.3" cy="646.5" r="2.2" fill="#111" stroke="none" stroke-width="0" />
<circle cx="773.4" cy="674.6" r="4.1" fill="#fff" stroke="#555" stroke-width="0.85" />
<circle cx="773.4" cy="674.6" r="2.2" fill="#111" stroke="none" stroke-width="0" />
<circle cx="808.3" cy="682.5" r="4.1" fill="#fff" stroke="#555" stroke-width="0.85" />
<circle cx="808.3" cy="682.5" r="2.2" fill="#111" stroke="none" stroke-width="0" />
<circle cx="773.4" cy="728" r="4.1" fill="#fff" stroke="#555" stroke-width="0.85" />
<circle cx="773.4" cy="728" r="2.2" fill="#111" stroke="none" stroke-width="0" />
<circle cx="808.3" cy="706.3" r="4.1" fill="#fff" stroke="#555" stroke-width="0.85" />
<circle cx="808.3" cy="706.3" r="2.2" fill="#111" stroke="none" stroke-width="0" />
<circle cx="894" cy="584.5" r="4.1" fill="#fff" stroke="#555" stroke-width="0.85" />
<circle cx="894" cy="584.5" r="2.2" fill="#111" stroke="none" stroke-width="0" />
<circle cx="910.5" cy="629.7" r="4.1" fill="#fff" stroke="#555" stroke-width="0.85" />
<circle cx="910.5" cy="629.7" r="2.2" fill="#111" stroke="none" stroke-width="0" />
<circle cx="910.5" cy="653.3" r="4.1" fill="#fff" stroke="#555" stroke-width="0.85" />
<circle cx="910.5" cy="653.3" r="2.2" fill="#111" stroke="none" stroke-width="0" />
<circle cx="865.5" cy="688" r="4.1" fill="#fff" stroke="#555" stroke-width="0.85" />
<circle cx="865.5" cy="688" r="2.2" fill="#111" stroke="none" stroke-width="0" />
<circle cx="865.5" cy="711.7" r="4.1" fill="#fff" stroke="#555" stroke-width="0.85" />
<circle cx="865.5" cy="711.7" r="2.2" fill="#111" stroke="none" stroke-width="0" />
<circle cx="968.7" cy="598.7" r="4.9" fill="#fff" stroke="#555" stroke-width="0.85" />
<circle cx="968.7" cy="598.7" r="3" fill="#111" stroke="none" stroke-width="0" />
<circle cx="966.7" cy="694.7" r="4.9" fill="#fff" stroke="#555" stroke-width="0.85" />
<circle cx="966.7" cy="694.7" r="3" fill="#111" stroke="none" stroke-width="0" />
<circle cx="1173" cy="599" r="4.9" fill="#fff" stroke="#555" stroke-width="0.85" />
<circle cx="1173" cy="599" r="3" fill="#111" stroke="none" stroke-width="0" />
<circle cx="1174.6" cy="695" r="4.9" fill="#fff" stroke="#555" stroke-width="0.85" />
<circle cx="1174.6" cy="695" r="3" fill="#111" stroke="none" stroke-width="0" />
<circle cx="1234.6" cy="587" r="4.1" fill="#fff" stroke="#555" stroke-width="0.85" />
<circle cx="1234.6" cy="587" r="2.2" fill="#111" stroke="none" stroke-width="0" />
<circle cx="1250" cy="646.5" r="4.1" fill="#fff" stroke="#555" stroke-width="0.85" />
<circle cx="1250" cy="646.5" r="2.2" fill="#111" stroke="none" stroke-width="0" />
<circle cx="1292.2" cy="617" r="4.1" fill="#fff" stroke="#555" stroke-width="0.85" />
<circle cx="1292.2" cy="617" r="2.2" fill="#111" stroke="none" stroke-width="0" />
<circle cx="1366.3" cy="588.7" r="4.1" fill="#fff" stroke="#555" stroke-width="0.85" />
<circle cx="1366.3" cy="588.7" r="2.2" fill="#111" stroke="none" stroke-width="0" />
<circle cx="1434.2" cy="630.3" r="4.1" fill="#fff" stroke="#555" stroke-width="0.85" />
<circle cx="1434.2" cy="630.3" r="2.2" fill="#111" stroke="none" stroke-width="0" />
<circle cx="1407" cy="668" r="4.1" fill="#fff" stroke="#555" stroke-width="0.85" />
<circle cx="1407" cy="668" r="2.2" fill="#111" stroke="none" stroke-width="0" />
<circle cx="1343.3" cy="646.7" r="4.1" fill="#fff" stroke="#555" stroke-width="0.85" />
<circle cx="1343.3" cy="646.7" r="2.2" fill="#111" stroke="none" stroke-width="0" />
<circle cx="1306.7" cy="676.2" r="4.1" fill="#fff" stroke="#555" stroke-width="0.85" />
<circle cx="1306.7" cy="676.2" r="2.2" fill="#111" stroke="none" stroke-width="0" />
<circle cx="1283.4" cy="711.6" r="4.1" fill="#fff" stroke="#555" stroke-width="0.85" />
<circle cx="1283.4" cy="711.6" r="2.2" fill="#111" stroke="none" stroke-width="0" />
<circle cx="1319.7" cy="724.5" r="4.1" fill="#fff" stroke="#555" stroke-width="0.85" />
<circle cx="1319.7" cy="724.5" r="2.2" fill="#111" stroke="none" stroke-width="0" />
<circle cx="1359.2" cy="706.3" r="4.1" fill="#fff" stroke="#555" stroke-width="0.85" />
<circle cx="1359.2" cy="706.3" r="2.2" fill="#111" stroke="none" stroke-width="0" />
<path d="M814.2,767.8 C813.2,805 824.2,835 823.2,876" fill="none" stroke="#555555" stroke-width="5.2" stroke-linecap="butt"/>
<path d="M814.2,767.8 C813.2,805 824.2,835 823.2,876" fill="none" stroke="#ffffff" stroke-width="3.7" stroke-linecap="butt"/>
<path d="M814.2,767.8 C813.2,805 824.2,835 823.2,876" fill="none" stroke="#4fd8a9" stroke-width="3.3" stroke-dasharray="0.5 10.5" stroke-dashoffset="4.2" stroke-linecap="round"/>
<path d="M835.6,767.8 C834.6,805 845.6,835 844.6,876" fill="none" stroke="#555555" stroke-width="5.2" stroke-linecap="butt"/>
<path d="M835.6,767.8 C834.6,805 845.6,835 844.6,876" fill="none" stroke="#ffffff" stroke-width="3.7" stroke-linecap="butt"/>
<path d="M835.6,767.8 C834.6,805 845.6,835 844.6,876" fill="none" stroke="#4fd8a9" stroke-width="3.3" stroke-dasharray="9 8" stroke-dashoffset="7.3"/>
<path d="M857,767.8 C856,805 867,835 866,876" fill="none" stroke="#555555" stroke-width="5.2" stroke-linecap="butt"/>
<path d="M857,767.8 C856,805 867,835 866,876" fill="none" stroke="#ffffff" stroke-width="3.7" stroke-linecap="butt"/>
<path d="M857,767.8 C856,805 867,835 866,876" fill="none" stroke="#4fd8a9" stroke-width="3.3" stroke-dasharray="0.5 10.5" stroke-dashoffset="4.2" stroke-linecap="round"/>
<path d="M878.4,767.8 C877.4,805 888.4,835 887.4,876" fill="none" stroke="#555555" stroke-width="5.2" stroke-linecap="butt"/>
<path d="M878.4,767.8 C877.4,805 888.4,835 887.4,876" fill="none" stroke="#ffffff" stroke-width="3.7" stroke-linecap="butt"/>
<path d="M878.4,767.8 C877.4,805 888.4,835 887.4,876" fill="none" stroke="#4fd8a9" stroke-width="3.3" stroke-dasharray="9 8" stroke-dashoffset="7.3"/>
<path d="M899.8,767.8 C898.8,805 909.8,835 908.8,876" fill="none" stroke="#555555" stroke-width="5.2" stroke-linecap="butt"/>
<path d="M899.8,767.8 C898.8,805 909.8,835 908.8,876" fill="none" stroke="#ffffff" stroke-width="3.7" stroke-linecap="butt"/>
<path d="M899.8,767.8 C898.8,805 909.8,835 908.8,876" fill="none" stroke="#4fd8a9" stroke-width="3.3" stroke-dasharray="0.5 10.5" stroke-dashoffset="4.2" stroke-linecap="round"/>
<path d="M921.2,767.8 C920.2,805 931.2,835 930.2,876" fill="none" stroke="#555555" stroke-width="5.2" stroke-linecap="butt"/>
<path d="M921.2,767.8 C920.2,805 931.2,835 930.2,876" fill="none" stroke="#ffffff" stroke-width="3.7" stroke-linecap="butt"/>
<path d="M921.2,767.8 C920.2,805 931.2,835 930.2,876" fill="none" stroke="#4fd8a9" stroke-width="3.3" stroke-dasharray="9 8" stroke-dashoffset="7.3"/>
<path d="M942.6,767.8 C941.6,805 952.6,835 951.6,876" fill="none" stroke="#555555" stroke-width="5.2" stroke-linecap="butt"/>
<path d="M942.6,767.8 C941.6,805 952.6,835 951.6,876" fill="none" stroke="#ffffff" stroke-width="3.7" stroke-linecap="butt"/>
<path d="M942.6,767.8 C941.6,805 952.6,835 951.6,876" fill="none" stroke="#4fd8a9" stroke-width="3.3" stroke-dasharray="0.5 10.5" stroke-dashoffset="4.2" stroke-linecap="round"/>
<path d="M1198.8,767.8 C1199.8,805 1188.8,835 1189.8,876" fill="none" stroke="#555555" stroke-width="5.2" stroke-linecap="butt"/>
<path d="M1198.8,767.8 C1199.8,805 1188.8,835 1189.8,876" fill="none" stroke="#ffffff" stroke-width="3.7" stroke-linecap="butt"/>
<path d="M1198.8,767.8 C1199.8,805 1188.8,835 1189.8,876" fill="none" stroke="#4fd8a9" stroke-width="3.3" stroke-dasharray="0.5 10.5" stroke-dashoffset="4.2" stroke-linecap="round"/>
<path d="M1220.3,767.8 C1221.3,805 1210.3,835 1211.3,876" fill="none" stroke="#555555" stroke-width="5.2" stroke-linecap="butt"/>
<path d="M1220.3,767.8 C1221.3,805 1210.3,835 1211.3,876" fill="none" stroke="#ffffff" stroke-width="3.7" stroke-linecap="butt"/>
<path d="M1220.3,767.8 C1221.3,805 1210.3,835 1211.3,876" fill="none" stroke="#4fd8a9" stroke-width="3.3" stroke-dasharray="9 8" stroke-dashoffset="7.3"/>
<path d="M1241.8,767.8 C1242.8,805 1231.8,835 1232.8,876" fill="none" stroke="#555555" stroke-width="5.2" stroke-linecap="butt"/>
<path d="M1241.8,767.8 C1242.8,805 1231.8,835 1232.8,876" fill="none" stroke="#ffffff" stroke-width="3.7" stroke-linecap="butt"/>
<path d="M1241.8,767.8 C1242.8,805 1231.8,835 1232.8,876" fill="none" stroke="#4fd8a9" stroke-width="3.3" stroke-dasharray="0.5 10.5" stroke-dashoffset="4.2" stroke-linecap="round"/>
<path d="M1263.3,767.8 C1264.3,805 1253.3,835 1254.3,876" fill="none" stroke="#555555" stroke-width="5.2" stroke-linecap="butt"/>
<path d="M1263.3,767.8 C1264.3,805 1253.3,835 1254.3,876" fill="none" stroke="#ffffff" stroke-width="3.7" stroke-linecap="butt"/>
<path d="M1263.3,767.8 C1264.3,805 1253.3,835 1254.3,876" fill="none" stroke="#4fd8a9" stroke-width="3.3" stroke-dasharray="9 8" stroke-dashoffset="7.3"/>
<path d="M1284.8,767.8 C1285.8,805 1274.8,835 1275.8,876" fill="none" stroke="#555555" stroke-width="5.2" stroke-linecap="butt"/>
<path d="M1284.8,767.8 C1285.8,805 1274.8,835 1275.8,876" fill="none" stroke="#ffffff" stroke-width="3.7" stroke-linecap="butt"/>
<path d="M1284.8,767.8 C1285.8,805 1274.8,835 1275.8,876" fill="none" stroke="#4fd8a9" stroke-width="3.3" stroke-dasharray="0.5 10.5" stroke-dashoffset="4.2" stroke-linecap="round"/>
<path d="M1306.3,767.8 C1307.3,805 1296.3,835 1297.3,876" fill="none" stroke="#555555" stroke-width="5.2" stroke-linecap="butt"/>
<path d="M1306.3,767.8 C1307.3,805 1296.3,835 1297.3,876" fill="none" stroke="#ffffff" stroke-width="3.7" stroke-linecap="butt"/>
<path d="M1306.3,767.8 C1307.3,805 1296.3,835 1297.3,876" fill="none" stroke="#4fd8a9" stroke-width="3.3" stroke-dasharray="9 8" stroke-dashoffset="7.3"/>
<path d="M1327.8,767.8 C1328.8,805 1317.8,835 1318.8,876" fill="none" stroke="#555555" stroke-width="5.2" stroke-linecap="butt"/>
<path d="M1327.8,767.8 C1328.8,805 1317.8,835 1318.8,876" fill="none" stroke="#ffffff" stroke-width="3.7" stroke-linecap="butt"/>
<path d="M1327.8,767.8 C1328.8,805 1317.8,835 1318.8,876" fill="none" stroke="#4fd8a9" stroke-width="3.3" stroke-dasharray="0.5 10.5" stroke-dashoffset="4.2" stroke-linecap="round"/>
<circle cx="814.2" cy="767.3" r="1.8" fill="#fff" stroke="#444" stroke-width="0.9" />
<circle cx="835.6" cy="767.3" r="1.8" fill="#4fd8a9" stroke="#444" stroke-width="0.9" />
<circle cx="857" cy="767.3" r="1.8" fill="#fff" stroke="#444" stroke-width="0.9" />
<circle cx="878.4" cy="767.3" r="1.8" fill="#4fd8a9" stroke="#444" stroke-width="0.9" />
<circle cx="899.8" cy="767.3" r="1.8" fill="#fff" stroke="#444" stroke-width="0.9" />
<circle cx="921.2" cy="767.3" r="1.8" fill="#4fd8a9" stroke="#444" stroke-width="0.9" />
<circle cx="942.6" cy="767.3" r="1.8" fill="#fff" stroke="#444" stroke-width="0.9" />
<circle cx="1198.8" cy="767.3" r="1.8" fill="#fff" stroke="#444" stroke-width="0.9" />
<circle cx="1220.3" cy="767.3" r="1.8" fill="#4fd8a9" stroke="#444" stroke-width="0.9" />
<circle cx="1241.8" cy="767.3" r="1.8" fill="#fff" stroke="#444" stroke-width="0.9" />
<circle cx="1263.3" cy="767.3" r="1.8" fill="#4fd8a9" stroke="#444" stroke-width="0.9" />
<circle cx="1284.8" cy="767.3" r="1.8" fill="#fff" stroke="#444" stroke-width="0.9" />
<circle cx="1306.3" cy="767.3" r="1.8" fill="#4fd8a9" stroke="#444" stroke-width="0.9" />
<circle cx="1327.8" cy="767.3" r="1.8" fill="#fff" stroke="#444" stroke-width="0.9" />
<polygon points="804,875.5 968.7,875.5 953.3,1057.5 761,1057.5" fill="#f0f1f1" stroke="#2e2e2e" stroke-width="1.1" stroke-linejoin="round" />
<polygon points="761,1057.5 953.3,1057.5 953.3,1072.5 761,1072.5" fill="#eeefef" stroke="#2e2e2e" stroke-width="1.1" stroke-linejoin="round" />
<polygon points="1172.2,875.5 1338,875.5 1381.6,1057.5 1187.7,1057.5" fill="#f0f1f1" stroke="#2e2e2e" stroke-width="1.1" stroke-linejoin="round" />
<polygon points="1187.7,1057.5 1381.6,1057.5 1381.6,1072.5 1187.7,1072.5" fill="#eeefef" stroke="#2e2e2e" stroke-width="1.1" stroke-linejoin="round" />
<path d="M811.25,893 V854.8 Q811.25,849.8 816.25,849.8 H857.89 Q862.89,849.8 862.89,854.8 V858.8 Q862.89,863.8 867.89,863.8 H872.45 Q877.45,863.8 877.45,868.8 V893 Q877.45,898 872.45,898 H816.25 Q811.25,898 811.25,893 Z" fill="#fff" stroke="#2e2e2e" stroke-width="1.1" />
<path d="M811.25,893 V854.8 Q811.25,849.8 816.25,849.8 H857.89 Q862.89,849.8 862.89,854.8 V858.8 Q862.89,863.8 867.89,863.8 H872.45 Q877.45,863.8 877.45,868.8 V893 Q877.45,898 872.45,898 H816.25 Q811.25,898 811.25,893 Z" fill="none" stroke="#2e2e2e" stroke-width="0.8" transform="translate(0.9,1.4)" opacity="0.6"/>
<path d="M809.6,900 V861.8 Q809.6,856.8 814.6,856.8 H856.24 Q861.24,856.8 861.24,861.8 V865.8 Q861.24,870.8 866.24,870.8 H870.8 Q875.8,870.8 875.8,875.8 V900 Q875.8,905 870.8,905 H814.6 Q809.6,905 809.6,900 Z" fill="#fff" stroke="#2e2e2e" stroke-width="1.1" />
<path d="M809.6,900 V861.8 Q809.6,856.8 814.6,856.8 H856.24 Q861.24,856.8 861.24,861.8 V865.8 Q861.24,870.8 866.24,870.8 H870.8 Q875.8,870.8 875.8,875.8 V900 Q875.8,905 870.8,905 H814.6 Q809.6,905 809.6,900 Z" fill="none" stroke="#2e2e2e" stroke-width="0.8" transform="translate(0.9,1.4)" opacity="0.6"/>
<path d="M807.95,907 V868.8 Q807.95,863.8 812.95,863.8 H854.59 Q859.59,863.8 859.59,868.8 V872.8 Q859.59,877.8 864.59,877.8 H869.15 Q874.15,877.8 874.15,882.8 V907 Q874.15,912 869.15,912 H812.95 Q807.95,912 807.95,907 Z" fill="#fff" stroke="#2e2e2e" stroke-width="1.1" />
<path d="M807.95,907 V868.8 Q807.95,863.8 812.95,863.8 H854.59 Q859.59,863.8 859.59,868.8 V872.8 Q859.59,877.8 864.59,877.8 H869.15 Q874.15,877.8 874.15,882.8 V907 Q874.15,912 869.15,912 H812.95 Q807.95,912 807.95,907 Z" fill="none" stroke="#2e2e2e" stroke-width="0.8" transform="translate(0.9,1.4)" opacity="0.6"/>
<path d="M806.3,914 V875.8 Q806.3,870.8 811.3,870.8 H852.94 Q857.94,870.8 857.94,875.8 V879.8 Q857.94,884.8 862.94,884.8 H867.5 Q872.5,884.8 872.5,889.8 V914 Q872.5,919 867.5,919 H811.3 Q806.3,919 806.3,914 Z" fill="#fff" stroke="#2e2e2e" stroke-width="1.1" />
<path d="M806.3,914 V875.8 Q806.3,870.8 811.3,870.8 H852.94 Q857.94,870.8 857.94,875.8 V879.8 Q857.94,884.8 862.94,884.8 H867.5 Q872.5,884.8 872.5,889.8 V914 Q872.5,919 867.5,919 H811.3 Q806.3,919 806.3,914 Z" fill="none" stroke="#2e2e2e" stroke-width="0.8" transform="translate(0.9,1.4)" opacity="0.6"/>
<rect x="812.3" y="896.5" width="53.9" height="15.2" rx="7.6" fill="#fff" stroke="#2e2e2e" stroke-width="1.1" />
<text x="839.4" y="907.3" font-size="7.6" font-weight="normal" fill="#555" text-anchor="middle" stroke="#555" stroke-width="0.3" textLength="42" lengthAdjust="spacingAndGlyphs">PROGRAM</text>
<path d="M798.15,958.6 V919 Q798.15,914 803.15,914 H845.88 Q850.88,914 850.88,919 V923 Q850.88,928 855.88,928 H860.75 Q865.75,928 865.75,933 V958.6 Q865.75,963.6 860.75,963.6 H803.15 Q798.15,963.6 798.15,958.6 Z" fill="#fff" stroke="#2e2e2e" stroke-width="1.1" />
<path d="M798.15,958.6 V919 Q798.15,914 803.15,914 H845.88 Q850.88,914 850.88,919 V923 Q850.88,928 855.88,928 H860.75 Q865.75,928 865.75,933 V958.6 Q865.75,963.6 860.75,963.6 H803.15 Q798.15,963.6 798.15,958.6 Z" fill="none" stroke="#2e2e2e" stroke-width="0.8" transform="translate(0.9,1.4)" opacity="0.6"/>
<path d="M796.5,965.6 V926 Q796.5,921 801.5,921 H844.23 Q849.23,921 849.23,926 V930 Q849.23,935 854.23,935 H859.1 Q864.1,935 864.1,940 V965.6 Q864.1,970.6 859.1,970.6 H801.5 Q796.5,970.6 796.5,965.6 Z" fill="#fff" stroke="#2e2e2e" stroke-width="1.1" />
<path d="M796.5,965.6 V926 Q796.5,921 801.5,921 H844.23 Q849.23,921 849.23,926 V930 Q849.23,935 854.23,935 H859.1 Q864.1,935 864.1,940 V965.6 Q864.1,970.6 859.1,970.6 H801.5 Q796.5,970.6 796.5,965.6 Z" fill="none" stroke="#2e2e2e" stroke-width="0.8" transform="translate(0.9,1.4)" opacity="0.6"/>
<path d="M794.85,972.6 V933 Q794.85,928 799.85,928 H842.58 Q847.58,928 847.58,933 V937 Q847.58,942 852.58,942 H857.45 Q862.45,942 862.45,947 V972.6 Q862.45,977.6 857.45,977.6 H799.85 Q794.85,977.6 794.85,972.6 Z" fill="#fff" stroke="#2e2e2e" stroke-width="1.1" />
<path d="M794.85,972.6 V933 Q794.85,928 799.85,928 H842.58 Q847.58,928 847.58,933 V937 Q847.58,942 852.58,942 H857.45 Q862.45,942 862.45,947 V972.6 Q862.45,977.6 857.45,977.6 H799.85 Q794.85,977.6 794.85,972.6 Z" fill="none" stroke="#2e2e2e" stroke-width="0.8" transform="translate(0.9,1.4)" opacity="0.6"/>
<path d="M793.2,979.6 V940 Q793.2,935 798.2,935 H840.93 Q845.93,935 845.93,940 V944 Q845.93,949 850.93,949 H855.8 Q860.8,949 860.8,954 V979.6 Q860.8,984.6 855.8,984.6 H798.2 Q793.2,984.6 793.2,979.6 Z" fill="#fff" stroke="#2e2e2e" stroke-width="1.1" />
<path d="M793.2,979.6 V940 Q793.2,935 798.2,935 H840.93 Q845.93,935 845.93,940 V944 Q845.93,949 850.93,949 H855.8 Q860.8,949 860.8,954 V979.6 Q860.8,984.6 855.8,984.6 H798.2 Q793.2,984.6 793.2,979.6 Z" fill="none" stroke="#2e2e2e" stroke-width="0.8" transform="translate(0.9,1.4)" opacity="0.6"/>
<rect x="799.2" y="962.1" width="55.3" height="15.2" rx="7.6" fill="#fff" stroke="#2e2e2e" stroke-width="1.1" />
<text x="827" y="972.9" font-size="7.6" font-weight="normal" fill="#555" text-anchor="middle" stroke="#555" stroke-width="0.3" textLength="22" lengthAdjust="spacingAndGlyphs">BOOK</text>
<path d="M782.65,1023.3 V984.6 Q782.65,979.6 787.65,979.6 H831.08 Q836.08,979.6 836.08,984.6 V988.6 Q836.08,993.6 841.08,993.6 H846.15 Q851.15,993.6 851.15,998.6 V1023.3 Q851.15,1028.3 846.15,1028.3 H787.65 Q782.65,1028.3 782.65,1023.3 Z" fill="#fff" stroke="#2e2e2e" stroke-width="1.1" />
<path d="M782.65,1023.3 V984.6 Q782.65,979.6 787.65,979.6 H831.08 Q836.08,979.6 836.08,984.6 V988.6 Q836.08,993.6 841.08,993.6 H846.15 Q851.15,993.6 851.15,998.6 V1023.3 Q851.15,1028.3 846.15,1028.3 H787.65 Q782.65,1028.3 782.65,1023.3 Z" fill="none" stroke="#2e2e2e" stroke-width="0.8" transform="translate(0.9,1.4)" opacity="0.6"/>
<path d="M781,1030.3 V991.6 Q781,986.6 786,986.6 H829.43 Q834.43,986.6 834.43,991.6 V995.6 Q834.43,1000.6 839.43,1000.6 H844.5 Q849.5,1000.6 849.5,1005.6 V1030.3 Q849.5,1035.3 844.5,1035.3 H786 Q781,1035.3 781,1030.3 Z" fill="#fff" stroke="#2e2e2e" stroke-width="1.1" />
<path d="M781,1030.3 V991.6 Q781,986.6 786,986.6 H829.43 Q834.43,986.6 834.43,991.6 V995.6 Q834.43,1000.6 839.43,1000.6 H844.5 Q849.5,1000.6 849.5,1005.6 V1030.3 Q849.5,1035.3 844.5,1035.3 H786 Q781,1035.3 781,1030.3 Z" fill="none" stroke="#2e2e2e" stroke-width="0.8" transform="translate(0.9,1.4)" opacity="0.6"/>
<path d="M779.35,1037.3 V998.6 Q779.35,993.6 784.35,993.6 H827.78 Q832.78,993.6 832.78,998.6 V1002.6 Q832.78,1007.6 837.78,1007.6 H842.85 Q847.85,1007.6 847.85,1012.6 V1037.3 Q847.85,1042.3 842.85,1042.3 H784.35 Q779.35,1042.3 779.35,1037.3 Z" fill="#fff" stroke="#2e2e2e" stroke-width="1.1" />
<path d="M779.35,1037.3 V998.6 Q779.35,993.6 784.35,993.6 H827.78 Q832.78,993.6 832.78,998.6 V1002.6 Q832.78,1007.6 837.78,1007.6 H842.85 Q847.85,1007.6 847.85,1012.6 V1037.3 Q847.85,1042.3 842.85,1042.3 H784.35 Q779.35,1042.3 779.35,1037.3 Z" fill="none" stroke="#2e2e2e" stroke-width="0.8" transform="translate(0.9,1.4)" opacity="0.6"/>
<path d="M777.7,1044.3 V1005.6 Q777.7,1000.6 782.7,1000.6 H826.13 Q831.13,1000.6 831.13,1005.6 V1009.6 Q831.13,1014.6 836.13,1014.6 H841.2 Q846.2,1014.6 846.2,1019.6 V1044.3 Q846.2,1049.3 841.2,1049.3 H782.7 Q777.7,1049.3 777.7,1044.3 Z" fill="#fff" stroke="#2e2e2e" stroke-width="1.1" />
<path d="M777.7,1044.3 V1005.6 Q777.7,1000.6 782.7,1000.6 H826.13 Q831.13,1000.6 831.13,1005.6 V1009.6 Q831.13,1014.6 836.13,1014.6 H841.2 Q846.2,1014.6 846.2,1019.6 V1044.3 Q846.2,1049.3 841.2,1049.3 H782.7 Q777.7,1049.3 777.7,1044.3 Z" fill="none" stroke="#2e2e2e" stroke-width="0.8" transform="translate(0.9,1.4)" opacity="0.6"/>
<rect x="783.7" y="1026.8" width="56.2" height="15.2" rx="7.6" fill="#fff" stroke="#2e2e2e" stroke-width="1.1" />
<text x="811.95" y="1037.6" font-size="7.6" font-weight="normal" fill="#555" text-anchor="middle" stroke="#555" stroke-width="0.3" textLength="38" lengthAdjust="spacingAndGlyphs">LECTURE</text>
<rect x="897.1" y="850.3" width="55.4" height="54" rx="5" fill="#fff" stroke="#2e2e2e" stroke-width="1.1" />
<rect x="895.7" y="854.7" width="55.4" height="54" rx="5" fill="#fff" stroke="#2e2e2e" stroke-width="1.1" />
<rect x="894.3" y="859.1" width="55.4" height="54" rx="5" fill="#fff" stroke="#2e2e2e" stroke-width="1.1" />
<rect x="892.9" y="863.5" width="55.4" height="54" rx="5" fill="#fff" stroke="#2e2e2e" stroke-width="1.1" />
<circle cx="902.4" cy="871.8" r="3.5" fill="#fff" stroke="#333" stroke-width="0.9" />
<rect x="910.8" y="868.6" width="6.4" height="6.4" rx="0.6" fill="#fff" stroke="#333" stroke-width="0.9" />
<circle cx="925.6" cy="871.8" r="3.5" fill="#fff" stroke="#333" stroke-width="0.9" />
<circle cx="937.2" cy="871.8" r="3.5" fill="#fff" stroke="#333" stroke-width="0.9" />
<rect x="899.2" y="881" width="6.4" height="6.4" rx="0.6" fill="#fff" stroke="#333" stroke-width="0.9" />
<circle cx="914" cy="884.2" r="3.5" fill="#fff" stroke="#333" stroke-width="0.9" />
<circle cx="925.6" cy="884.2" r="3.5" fill="#fff" stroke="#333" stroke-width="0.9" />
<rect x="934" y="881" width="6.4" height="6.4" rx="0.6" fill="#fff" stroke="#333" stroke-width="0.9" />
<circle cx="902.4" cy="896.6" r="3.5" fill="#fff" stroke="#333" stroke-width="0.9" />
<rect x="910.8" y="893.4" width="6.4" height="6.4" rx="0.6" fill="#fff" stroke="#333" stroke-width="0.9" />
<circle cx="925.6" cy="896.6" r="3.5" fill="#fff" stroke="#333" stroke-width="0.9" />
<circle cx="937.2" cy="896.6" r="3.5" fill="#fff" stroke="#333" stroke-width="0.9" />
<circle cx="902.4" cy="909" r="3.5" fill="#fff" stroke="#333" stroke-width="0.9" />
<rect x="910.8" y="905.8" width="6.4" height="6.4" rx="0.6" fill="#fff" stroke="#333" stroke-width="0.9" />
<circle cx="925.6" cy="909" r="3.5" fill="#fff" stroke="#333" stroke-width="0.9" />
<rect x="934" y="905.8" width="6.4" height="6.4" rx="0.6" fill="#fff" stroke="#333" stroke-width="0.9" />
<rect x="888.9" y="915.8" width="54.9" height="54" rx="5" fill="#fff" stroke="#2e2e2e" stroke-width="1.1" />
<rect x="887.5" y="920.2" width="54.9" height="54" rx="5" fill="#fff" stroke="#2e2e2e" stroke-width="1.1" />
<rect x="886.1" y="924.6" width="54.9" height="54" rx="5" fill="#fff" stroke="#2e2e2e" stroke-width="1.1" />
<rect x="884.7" y="929" width="54.9" height="54" rx="5" fill="#fff" stroke="#2e2e2e" stroke-width="1.1" />
<path d="M894.2,934.7 L896.8,939.3 L891.6,939.3 Z" fill="#fff" stroke="#333" stroke-width="0.8" />
<path d="M905.8,934.7 L908.4,939.3 L903.2,939.3 Z" fill="#fff" stroke="#333" stroke-width="0.8" />
<rect x="914.2" y="934.1" width="6.4" height="6.4" rx="0.6" fill="#fff" stroke="#333" stroke-width="0.9" />
<path d="M929,934.7 L931.6,939.3 L926.4,939.3 Z" fill="#fff" stroke="#333" stroke-width="0.8" />
<rect x="891" y="946.5" width="6.4" height="6.4" rx="0.6" fill="#fff" stroke="#333" stroke-width="0.9" />
<path d="M905.8,947.1 L908.4,951.7 L903.2,951.7 Z" fill="#fff" stroke="#333" stroke-width="0.8" />
<rect x="914.2" y="946.5" width="6.4" height="6.4" rx="0.6" fill="#fff" stroke="#333" stroke-width="0.9" />
<rect x="925.8" y="946.5" width="6.4" height="6.4" rx="0.6" fill="#fff" stroke="#333" stroke-width="0.9" />
<path d="M894.2,959.5 L896.8,964.1 L891.6,964.1 Z" fill="#fff" stroke="#333" stroke-width="0.8" />
<path d="M905.8,959.5 L908.4,964.1 L903.2,964.1 Z" fill="#fff" stroke="#333" stroke-width="0.8" />
<rect x="914.2" y="958.9" width="6.4" height="6.4" rx="0.6" fill="#fff" stroke="#333" stroke-width="0.9" />
<path d="M929,959.5 L931.6,964.1 L926.4,964.1 Z" fill="#fff" stroke="#333" stroke-width="0.8" />
<rect x="891" y="971.3" width="6.4" height="6.4" rx="0.6" fill="#fff" stroke="#333" stroke-width="0.9" />
<rect x="902.6" y="971.3" width="6.4" height="6.4" rx="0.6" fill="#fff" stroke="#333" stroke-width="0.9" />
<path d="M917.4,971.9 L920,976.5 L914.8,976.5 Z" fill="#fff" stroke="#333" stroke-width="0.8" />
<rect x="925.8" y="971.3" width="6.4" height="6.4" rx="0.6" fill="#fff" stroke="#333" stroke-width="0.9" />
<rect x="880.2" y="981.6" width="54.8" height="54.5" rx="5" fill="#fff" stroke="#2e2e2e" stroke-width="1.1" />
<rect x="878.8" y="986" width="54.8" height="54.5" rx="5" fill="#fff" stroke="#2e2e2e" stroke-width="1.1" />
<rect x="877.4" y="990.4" width="54.8" height="54.5" rx="5" fill="#fff" stroke="#2e2e2e" stroke-width="1.1" />
<rect x="876" y="994.8" width="54.8" height="54.5" rx="5" fill="#fff" stroke="#2e2e2e" stroke-width="1.1" />
<rect x="882.3" y="999.9" width="6.4" height="6.4" rx="0.6" fill="#fff" stroke="#333" stroke-width="0.9" />
<circle cx="897.1" cy="1003.1" r="3.5" fill="#fff" stroke="#333" stroke-width="0.9" />
<polygon points="908.7,999.5 909.64,1001.81 912.12,1001.99 910.22,1003.59 910.82,1006.01 908.7,1004.7 906.58,1006.01 907.18,1003.59 905.28,1001.99 907.76,1001.81" fill="#fff" stroke="#333" stroke-width="0.8" stroke-linejoin="round" />
<rect x="917.1" y="999.9" width="6.4" height="6.4" rx="0.6" fill="#fff" stroke="#333" stroke-width="0.9" />
<polygon points="885.5,1011.9 886.44,1014.21 888.92,1014.39 887.02,1015.99 887.62,1018.41 885.5,1017.1 883.38,1018.41 883.98,1015.99 882.08,1014.39 884.56,1014.21" fill="#fff" stroke="#333" stroke-width="0.8" stroke-linejoin="round" />
<circle cx="897.1" cy="1015.5" r="3.5" fill="#fff" stroke="#333" stroke-width="0.9" />
<polygon points="908.7,1011.9 909.64,1014.21 912.12,1014.39 910.22,1015.99 910.82,1018.41 908.7,1017.1 906.58,1018.41 907.18,1015.99 905.28,1014.39 907.76,1014.21" fill="#fff" stroke="#333" stroke-width="0.8" stroke-linejoin="round" />
<rect x="917.1" y="1012.3" width="6.4" height="6.4" rx="0.6" fill="#fff" stroke="#333" stroke-width="0.9" />
<circle cx="885.5" cy="1027.9" r="3.5" fill="#fff" stroke="#333" stroke-width="0.9" />
<polygon points="897.1,1024.3 898.04,1026.61 900.52,1026.79 898.62,1028.39 899.22,1030.81 897.1,1029.5 894.98,1030.81 895.58,1028.39 893.68,1026.79 896.16,1026.61" fill="#fff" stroke="#333" stroke-width="0.8" stroke-linejoin="round" />
<rect x="905.5" y="1024.7" width="6.4" height="6.4" rx="0.6" fill="#fff" stroke="#333" stroke-width="0.9" />
<polygon points="920.3,1024.3 921.24,1026.61 923.72,1026.79 921.82,1028.39 922.42,1030.81 920.3,1029.5 918.18,1030.81 918.78,1028.39 916.88,1026.79 919.36,1026.61" fill="#fff" stroke="#333" stroke-width="0.8" stroke-linejoin="round" />
<circle cx="885.5" cy="1040.3" r="3.5" fill="#fff" stroke="#333" stroke-width="0.9" />
<rect x="893.9" y="1037.1" width="6.4" height="6.4" rx="0.6" fill="#fff" stroke="#333" stroke-width="0.9" />
<polygon points="908.7,1036.7 909.64,1039.01 912.12,1039.19 910.22,1040.79 910.82,1043.21 908.7,1041.9 906.58,1043.21 907.18,1040.79 905.28,1039.19 907.76,1039.01" fill="#fff" stroke="#333" stroke-width="0.8" stroke-linejoin="round" />
<rect x="917.1" y="1037.1" width="6.4" height="6.4" rx="0.6" fill="#fff" stroke="#333" stroke-width="0.9" />
<rect x="1180.5" y="850.4" width="47.8" height="57.9" rx="5" fill="#fff" stroke="#333" stroke-width="0.9" />
<rect x="1182.3" y="851.8" width="46" height="56.5" rx="5" fill="#fff" stroke="#2e2e2e" stroke-width="1.1" />
<circle cx="1221.5" cy="860" r="4.2" fill="#fff" stroke="#333" stroke-width="0.8" />
<path d="M1219.8,862 L1221.5,857.7 L1223.2,862" fill="none" stroke="#333" stroke-width="0.8" />
<path d="M1194.6,877 Q1193.3,861.5 1205.8,861.5 Q1218.3,861.5 1217,877" fill="#fff" stroke="#333" stroke-width="0.9" />
<circle cx="1196.6" cy="878" r="2.3" fill="#fff" stroke="#333" stroke-width="0.8" />
<circle cx="1215" cy="878" r="2.3" fill="#fff" stroke="#333" stroke-width="0.8" />
<path d="M1197.4,876 Q1197.4,867.5 1205.8,867.5 Q1214.2,867.5 1214.2,876 Q1213.8,888.5 1205.8,888.5 Q1197.8,888.5 1197.4,876 Z" fill="#fff" stroke="#333" stroke-width="0.9" />
<path d="M1197.4,876 Q1197.8,869.5 1200.8,868.2 L1202.3,870.7 Q1212.8,869.5 1214.2,876" fill="#fff" stroke="#333" stroke-width="0.9" />
<circle cx="1201.6" cy="876.8" r="3.1" fill="#fff" stroke="#333" stroke-width="0.8" />
<circle cx="1210" cy="876.8" r="3.1" fill="#fff" stroke="#333" stroke-width="0.8" />
<line x1="1204.7" y1="876.4" x2="1206.9" y2="876.4" stroke="#333" stroke-width="0.8" />
<line x1="1198.5" y1="876.4" x2="1196.3" y2="876" stroke="#333" stroke-width="0.8" />
<line x1="1213.1" y1="876.4" x2="1215.3" y2="876" stroke="#333" stroke-width="0.8" />
<path d="M1204,883.2 Q1205.8,884.8 1207.6,883.2" fill="none" stroke="#333" stroke-width="0.8" />
<rect x="1236" y="850.4" width="47.8" height="57.9" rx="5" fill="#fff" stroke="#333" stroke-width="0.9" />
<rect x="1237.8" y="851.8" width="46" height="56.5" rx="5" fill="#fff" stroke="#2e2e2e" stroke-width="1.1" />
<circle cx="1277" cy="860" r="4.2" fill="#fff" stroke="#333" stroke-width="0.8" />
<path d="M1275.3,862 L1277,857.7 L1278.7,862" fill="none" stroke="#333" stroke-width="0.8" />
<path d="M1250.1,877 Q1248.8,861.5 1261.3,861.5 Q1273.8,861.5 1272.5,877" fill="#fff" stroke="#333" stroke-width="0.9" />
<circle cx="1252.1" cy="878" r="2.3" fill="#fff" stroke="#333" stroke-width="0.8" />
<circle cx="1270.5" cy="878" r="2.3" fill="#fff" stroke="#333" stroke-width="0.8" />
<path d="M1252.9,876 Q1252.9,867.5 1261.3,867.5 Q1269.7,867.5 1269.7,876 Q1269.3,888.5 1261.3,888.5 Q1253.3,888.5 1252.9,876 Z" fill="#fff" stroke="#333" stroke-width="0.9" />
<path d="M1252.9,876 Q1253.3,869.5 1256.3,868.2 L1257.8,870.7 Q1268.3,869.5 1269.7,876" fill="#fff" stroke="#333" stroke-width="0.9" />
<circle cx="1257.1" cy="876.8" r="3.1" fill="#fff" stroke="#333" stroke-width="0.8" />
<circle cx="1265.5" cy="876.8" r="3.1" fill="#fff" stroke="#333" stroke-width="0.8" />
<line x1="1260.2" y1="876.4" x2="1262.4" y2="876.4" stroke="#333" stroke-width="0.8" />
<line x1="1254" y1="876.4" x2="1251.8" y2="876" stroke="#333" stroke-width="0.8" />
<line x1="1268.6" y1="876.4" x2="1270.8" y2="876" stroke="#333" stroke-width="0.8" />
<path d="M1259.5,883.2 Q1261.3,884.8 1263.1,883.2" fill="none" stroke="#333" stroke-width="0.8" />
<rect x="1292.2" y="850.4" width="47.8" height="57.9" rx="5" fill="#fff" stroke="#333" stroke-width="0.9" />
<rect x="1294" y="851.8" width="46" height="56.5" rx="5" fill="#fff" stroke="#2e2e2e" stroke-width="1.1" />
<circle cx="1333.2" cy="860" r="4.2" fill="#fff" stroke="#333" stroke-width="0.8" />
<path d="M1331.5,862 L1333.2,857.7 L1334.9,862" fill="none" stroke="#333" stroke-width="0.8" />
<path d="M1305,895 V874 Q1305,861.5 1317.5,861.5 Q1330,861.5 1330,874 V895" fill="#fff" stroke="#333" stroke-width="0.9" />
<circle cx="1308.3" cy="878" r="2.3" fill="#fff" stroke="#333" stroke-width="0.8" />
<circle cx="1326.7" cy="878" r="2.3" fill="#fff" stroke="#333" stroke-width="0.8" />
<path d="M1309.1,876 Q1309.1,867.5 1317.5,867.5 Q1325.9,867.5 1325.9,876 Q1325.5,888.5 1317.5,888.5 Q1309.5,888.5 1309.1,876 Z" fill="#fff" stroke="#333" stroke-width="0.9" />
<path d="M1309.1,876 Q1309.5,869.5 1312.5,868.2 L1314,870.7 Q1324.5,869.5 1325.9,876" fill="#fff" stroke="#333" stroke-width="0.9" />
<circle cx="1313.3" cy="876.8" r="3.1" fill="#fff" stroke="#333" stroke-width="0.8" />
<circle cx="1321.7" cy="876.8" r="3.1" fill="#fff" stroke="#333" stroke-width="0.8" />
<line x1="1316.4" y1="876.4" x2="1318.6" y2="876.4" stroke="#333" stroke-width="0.8" />
<line x1="1310.2" y1="876.4" x2="1308" y2="876" stroke="#333" stroke-width="0.8" />
<line x1="1324.8" y1="876.4" x2="1327" y2="876" stroke="#333" stroke-width="0.8" />
<path d="M1315.7,883.2 Q1317.5,884.8 1319.3,883.2" fill="none" stroke="#333" stroke-width="0.8" />
<rect x="1185.5" y="890.1" width="47.8" height="57.9" rx="5" fill="#fff" stroke="#333" stroke-width="0.9" />
<rect x="1187.3" y="891.5" width="46" height="56.5" rx="5" fill="#fff" stroke="#2e2e2e" stroke-width="1.1" />
<circle cx="1226.5" cy="899.7" r="4.2" fill="#fff" stroke="#333" stroke-width="0.8" />
<path d="M1224.8,901.7 L1226.5,897.4 L1228.2,901.7" fill="none" stroke="#333" stroke-width="0.8" />
<path d="M1198.3,934.7 V913.7 Q1198.3,901.2 1210.8,901.2 Q1223.3,901.2 1223.3,913.7 V934.7" fill="#fff" stroke="#333" stroke-width="0.9" />
<path d="M1194.1,938.7 Q1195.3,928.5 1210.8,928.1 Q1226.3,928.5 1227.5,938.7" fill="#fff" stroke="#333" stroke-width="0.9" />
<line x1="1207.4" y1="925.7" x2="1207.4" y2="928.7" stroke="#333" stroke-width="0.8" />
<line x1="1214.2" y1="925.7" x2="1214.2" y2="928.7" stroke="#333" stroke-width="0.8" />
<path d="M1207.2,928.3 L1210.8,934.2 L1214.4,928.3" fill="none" stroke="#333" stroke-width="0.8" />
<path d="M1203.3,928.9 L1205.8,932.7 L1203.8,934.9 L1207.2,938.5 M1218.3,928.9 L1215.8,932.7 L1217.8,934.9 L1214.4,938.5" fill="none" stroke="#333" stroke-width="0.8" />
<circle cx="1201.6" cy="917.7" r="2.3" fill="#fff" stroke="#333" stroke-width="0.8" />
<circle cx="1220" cy="917.7" r="2.3" fill="#fff" stroke="#333" stroke-width="0.8" />
<path d="M1202.4,915.7 Q1202.4,907.2 1210.8,907.2 Q1219.2,907.2 1219.2,915.7 Q1218.8,928.2 1210.8,928.2 Q1202.8,928.2 1202.4,915.7 Z" fill="#fff" stroke="#333" stroke-width="0.9" />
<path d="M1202.4,915.7 Q1202.8,909.2 1205.8,907.9 L1207.3,910.4 Q1217.8,909.2 1219.2,915.7" fill="#fff" stroke="#333" stroke-width="0.9" />
<circle cx="1206.6" cy="916.5" r="3.1" fill="#fff" stroke="#333" stroke-width="0.8" />
<circle cx="1215" cy="916.5" r="3.1" fill="#fff" stroke="#333" stroke-width="0.8" />
<line x1="1209.7" y1="916.1" x2="1211.9" y2="916.1" stroke="#333" stroke-width="0.8" />
<line x1="1203.5" y1="916.1" x2="1201.3" y2="915.7" stroke="#333" stroke-width="0.8" />
<line x1="1218.1" y1="916.1" x2="1220.3" y2="915.7" stroke="#333" stroke-width="0.8" />
<path d="M1209,922.9 Q1210.8,924.5 1212.6,922.9" fill="none" stroke="#333" stroke-width="0.8" />
<rect x="1241.5" y="890.1" width="47.8" height="57.9" rx="5" fill="#fff" stroke="#333" stroke-width="0.9" />
<rect x="1243.3" y="891.5" width="46" height="56.5" rx="5" fill="#fff" stroke="#2e2e2e" stroke-width="1.1" />
<circle cx="1282.5" cy="899.7" r="4.2" fill="#fff" stroke="#333" stroke-width="0.8" />
<path d="M1280.8,901.7 L1282.5,897.4 L1284.2,901.7" fill="none" stroke="#333" stroke-width="0.8" />
<path d="M1255.6,916.7 Q1254.3,901.2 1266.8,901.2 Q1279.3,901.2 1278,916.7" fill="#fff" stroke="#333" stroke-width="0.9" />
<path d="M1250.1,938.7 Q1251.3,928.5 1266.8,928.1 Q1282.3,928.5 1283.5,938.7" fill="#fff" stroke="#333" stroke-width="0.9" />
<line x1="1263.4" y1="925.7" x2="1263.4" y2="928.7" stroke="#333" stroke-width="0.8" />
<line x1="1270.2" y1="925.7" x2="1270.2" y2="928.7" stroke="#333" stroke-width="0.8" />
<path d="M1263.2,928.3 L1266.8,934.2 L1270.4,928.3" fill="none" stroke="#333" stroke-width="0.8" />
<path d="M1263.2,930.7 L1270.4,935.2 L1270.4,930.7 L1263.2,935.2 Z M1265.5,934.1 L1268.1,934.1 L1266.8,938.5 Z" fill="none" stroke="#333" stroke-width="0.7" />
<circle cx="1257.6" cy="917.7" r="2.3" fill="#fff" stroke="#333" stroke-width="0.8" />
<circle cx="1276" cy="917.7" r="2.3" fill="#fff" stroke="#333" stroke-width="0.8" />
<path d="M1258.4,915.7 Q1258.4,907.2 1266.8,907.2 Q1275.2,907.2 1275.2,915.7 Q1274.8,928.2 1266.8,928.2 Q1258.8,928.2 1258.4,915.7 Z" fill="#fff" stroke="#333" stroke-width="0.9" />
<path d="M1258.4,915.7 Q1258.8,909.2 1261.8,907.9 L1263.3,910.4 Q1273.8,909.2 1275.2,915.7" fill="#fff" stroke="#333" stroke-width="0.9" />
<circle cx="1262.6" cy="916.5" r="3.1" fill="#fff" stroke="#333" stroke-width="0.8" />
<circle cx="1271" cy="916.5" r="3.1" fill="#fff" stroke="#333" stroke-width="0.8" />
<line x1="1265.7" y1="916.1" x2="1267.9" y2="916.1" stroke="#333" stroke-width="0.8" />
<line x1="1259.5" y1="916.1" x2="1257.3" y2="915.7" stroke="#333" stroke-width="0.8" />
<line x1="1274.1" y1="916.1" x2="1276.3" y2="915.7" stroke="#333" stroke-width="0.8" />
<path d="M1265,922.9 Q1266.8,924.5 1268.6,922.9" fill="none" stroke="#333" stroke-width="0.8" />
<rect x="1297.6" y="890.1" width="47.8" height="57.9" rx="5" fill="#fff" stroke="#333" stroke-width="0.9" />
<rect x="1299.4" y="891.5" width="46" height="56.5" rx="5" fill="#fff" stroke="#2e2e2e" stroke-width="1.1" />
<circle cx="1338.6" cy="899.7" r="4.2" fill="#fff" stroke="#333" stroke-width="0.8" />
<path d="M1336.9,901.7 L1338.6,897.4 L1340.3,901.7" fill="none" stroke="#333" stroke-width="0.8" />
<path d="M1310.4,934.7 V913.7 Q1310.4,901.2 1322.9,901.2 Q1335.4,901.2 1335.4,913.7 V934.7" fill="#fff" stroke="#333" stroke-width="0.9" />
<path d="M1306.2,938.7 Q1307.4,928.5 1322.9,928.1 Q1338.4,928.5 1339.6,938.7" fill="#fff" stroke="#333" stroke-width="0.9" />
<line x1="1319.5" y1="925.7" x2="1319.5" y2="928.7" stroke="#333" stroke-width="0.8" />
<line x1="1326.3" y1="925.7" x2="1326.3" y2="928.7" stroke="#333" stroke-width="0.8" />
<path d="M1319.3,928.3 L1322.9,934.2 L1326.5,928.3" fill="none" stroke="#333" stroke-width="0.8" />
<path d="M1315.4,928.9 L1317.9,932.7 L1315.9,934.9 L1319.3,938.5 M1330.4,928.9 L1327.9,932.7 L1329.9,934.9 L1326.5,938.5" fill="none" stroke="#333" stroke-width="0.8" />
<circle cx="1313.7" cy="917.7" r="2.3" fill="#fff" stroke="#333" stroke-width="0.8" />
<circle cx="1332.1" cy="917.7" r="2.3" fill="#fff" stroke="#333" stroke-width="0.8" />
<path d="M1314.5,915.7 Q1314.5,907.2 1322.9,907.2 Q1331.3,907.2 1331.3,915.7 Q1330.9,928.2 1322.9,928.2 Q1314.9,928.2 1314.5,915.7 Z" fill="#fff" stroke="#333" stroke-width="0.9" />
<path d="M1314.5,915.7 Q1314.9,909.2 1317.9,907.9 L1319.4,910.4 Q1329.9,909.2 1331.3,915.7" fill="#fff" stroke="#333" stroke-width="0.9" />
<circle cx="1318.7" cy="916.5" r="3.1" fill="#fff" stroke="#333" stroke-width="0.8" />
<circle cx="1327.1" cy="916.5" r="3.1" fill="#fff" stroke="#333" stroke-width="0.8" />
<line x1="1321.8" y1="916.1" x2="1324" y2="916.1" stroke="#333" stroke-width="0.8" />
<line x1="1315.6" y1="916.1" x2="1313.4" y2="915.7" stroke="#333" stroke-width="0.8" />
<line x1="1330.2" y1="916.1" x2="1332.4" y2="915.7" stroke="#333" stroke-width="0.8" />
<path d="M1321.1,922.9 Q1322.9,924.5 1324.7,922.9" fill="none" stroke="#333" stroke-width="0.8" />
<rect x="1195.6" y="957.1" width="141.7" height="19" rx="9.5" fill="#fff" stroke="#2e2e2e" stroke-width="1.1" />
<rect x="1195.6" y="953.4" width="141.7" height="19" rx="9.5" fill="#fff" stroke="#2e2e2e" stroke-width="1.1" />
<rect x="1195.6" y="949.7" width="141.7" height="19" rx="9.5" fill="#fff" stroke="#2e2e2e" stroke-width="1.1" />
<rect x="1195.6" y="946" width="141.7" height="19" rx="9.5" fill="#fff" stroke="#2e2e2e" stroke-width="1.1" />
<rect x="1195.6" y="942.3" width="141.7" height="19" rx="9.5" fill="#fff" stroke="#2e2e2e" stroke-width="1.1" />
<text x="1266.45" y="955.3" font-size="7.8" font-weight="normal" fill="#444" text-anchor="middle" stroke="#444" stroke-width="0.3" textLength="115" lengthAdjust="spacingAndGlyphs">PROBLEM SOLVING APTITUDE</text>
<rect x="1204.3" y="991.2" width="142.3" height="19" rx="9.5" fill="#fff" stroke="#2e2e2e" stroke-width="1.1" />
<rect x="1204.3" y="987.5" width="142.3" height="19" rx="9.5" fill="#fff" stroke="#2e2e2e" stroke-width="1.1" />
<rect x="1204.3" y="983.8" width="142.3" height="19" rx="9.5" fill="#fff" stroke="#2e2e2e" stroke-width="1.1" />
<rect x="1204.3" y="980.1" width="142.3" height="19" rx="9.5" fill="#fff" stroke="#2e2e2e" stroke-width="1.1" />
<rect x="1204.3" y="976.4" width="142.3" height="19" rx="9.5" fill="#fff" stroke="#2e2e2e" stroke-width="1.1" />
<text x="1275.45" y="989.4" font-size="7.2" font-weight="normal" fill="#444" text-anchor="middle" stroke="#444" stroke-width="0.3" textLength="122" lengthAdjust="spacingAndGlyphs">RESEARCHING (PROBLEM SOLVING)</text>
<rect x="1214.8" y="1029.3" width="142.1" height="19" rx="9.5" fill="#fff" stroke="#2e2e2e" stroke-width="1.1" />
<rect x="1214.8" y="1025.6" width="142.1" height="19" rx="9.5" fill="#fff" stroke="#2e2e2e" stroke-width="1.1" />
<rect x="1214.8" y="1021.9" width="142.1" height="19" rx="9.5" fill="#fff" stroke="#2e2e2e" stroke-width="1.1" />
<rect x="1214.8" y="1018.2" width="142.1" height="19" rx="9.5" fill="#fff" stroke="#2e2e2e" stroke-width="1.1" />
<rect x="1214.8" y="1014.5" width="142.1" height="19" rx="9.5" fill="#fff" stroke="#2e2e2e" stroke-width="1.1" />
<rect x="1214.8" y="1010.8" width="142.1" height="19" rx="9.5" fill="#fff" stroke="#2e2e2e" stroke-width="1.1" />
<text x="1285.85" y="1023.8" font-size="7.8" font-weight="normal" fill="#444" text-anchor="middle" stroke="#444" stroke-width="0.3" textLength="85" lengthAdjust="spacingAndGlyphs">EDUCATIONAL STYLE</text>
<text x="1070.5" y="809" font-size="17" font-weight="bold" fill="#ffffff" text-anchor="middle" stroke="#ececec" stroke-width="0.6" textLength="100" lengthAdjust="spacingAndGlyphs">ONTOLOGY</text>
<text x="851.8" y="1100.6" font-size="16" font-weight="bold" fill="#ffffff" text-anchor="middle" stroke="#ececec" stroke-width="0.6" textLength="75" lengthAdjust="spacingAndGlyphs">RAW DATA</text>
<text x="1289" y="1100.6" font-size="16" font-weight="bold" fill="#ffffff" text-anchor="middle" stroke="#ececec" stroke-width="0.6" textLength="48" lengthAdjust="spacingAndGlyphs">LOGIC</text>
</svg>
</body></html>
